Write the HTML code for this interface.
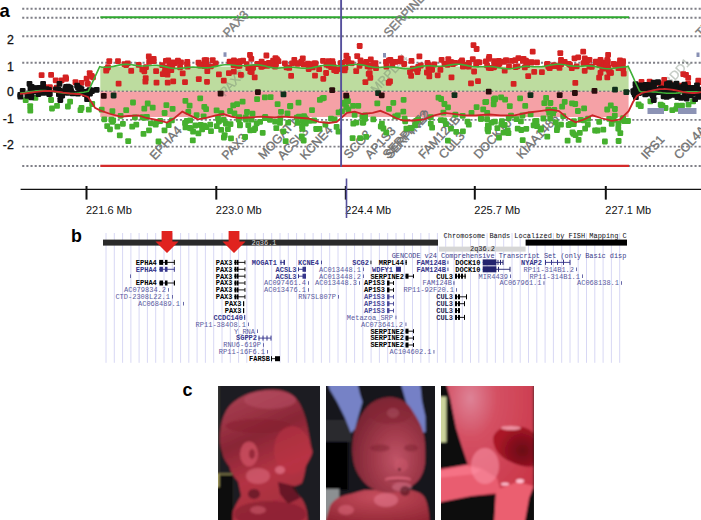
<!DOCTYPE html>
<html><head><meta charset="utf-8"><style>
html,body{margin:0;padding:0;background:#fff;}
body{width:701px;height:520px;overflow:hidden;position:relative;font-family:"Liberation Sans",sans-serif;}
svg{position:absolute;left:0;top:0;}
.ph{position:absolute;overflow:hidden;}
.bl{position:absolute;}
</style></head><body>
<svg width="701" height="520" viewBox="0 0 701 520">
<g id="pa"><line x1="22.2" y1="8.7" x2="701" y2="8.7" stroke="#808088" stroke-width="1.9" stroke-dasharray="2.1 2.05"/><line x1="22.2" y1="17.8" x2="701" y2="17.8" stroke="#808088" stroke-width="1.9" stroke-dasharray="2.1 2.05"/><line x1="22.2" y1="36.2" x2="701" y2="36.2" stroke="#808088" stroke-width="1.9" stroke-dasharray="2.1 2.05"/><line x1="22.2" y1="62.7" x2="701" y2="62.7" stroke="#808088" stroke-width="1.9" stroke-dasharray="2.1 2.05"/><line x1="22.2" y1="91.3" x2="701" y2="91.3" stroke="#808088" stroke-width="1.9" stroke-dasharray="2.1 2.05"/><line x1="22.2" y1="119.9" x2="701" y2="119.9" stroke="#808088" stroke-width="1.9" stroke-dasharray="2.1 2.05"/><line x1="22.2" y1="146.6" x2="701" y2="146.6" stroke="#808088" stroke-width="1.9" stroke-dasharray="2.1 2.05"/><line x1="22.2" y1="166.0" x2="701" y2="166.0" stroke="#808088" stroke-width="1.9" stroke-dasharray="2.1 2.05"/><rect x="100.3" y="66.6" width="528.3000000000001" height="24.700000000000003" fill="#bddc9f"/><rect x="100.3" y="91.3" width="528.3000000000001" height="25.700000000000003" fill="#f5a1a6"/><line x1="22.2" y1="91.3" x2="701" y2="91.3" stroke="#707078" stroke-width="1.5" stroke-dasharray="2.1 2.05" opacity="0.75"/><line x1="100.3" y1="17.3" x2="629" y2="17.3" stroke="#2fa82f" stroke-width="2.1"/><line x1="100.3" y1="165.9" x2="629" y2="165.9" stroke="#d42a2a" stroke-width="2.1"/><text x="225" y="97" transform="rotate(-47 225 97)" font-family="Liberation Sans" font-size="12.3" fill="#6a7a6a" stroke="#6a7a6a" stroke-width="0.35" opacity="0.4">PAX3</text><text x="376" y="94" transform="rotate(-47 376 94)" font-family="Liberation Sans" font-size="12.3" fill="#6a7a6a" stroke="#6a7a6a" stroke-width="0.35" opacity="0.4">MRPL44</text><text x="657" y="100" transform="rotate(-47 657 100)" font-family="Liberation Sans" font-size="12.3" fill="#6a7a6a" stroke="#6a7a6a" stroke-width="0.35" opacity="0.4">RHBDD1</text><text x="155.0" y="160.5" transform="rotate(-47 155.0 160.5)" font-family="Liberation Sans" font-size="12.3" fill="#727272" stroke="#727272" stroke-width="0.35" opacity="1.0">EPHA4</text><text x="227.1" y="160.5" transform="rotate(-47 227.1 160.5)" font-family="Liberation Sans" font-size="12.3" fill="#727272" stroke="#727272" stroke-width="0.35" opacity="1.0">PAX3</text><text x="263.5" y="160.0" transform="rotate(-47 263.5 160.0)" font-family="Liberation Sans" font-size="12.3" fill="#727272" stroke="#727272" stroke-width="0.35" opacity="1.0">MOGAT1</text><text x="282.7" y="160.5" transform="rotate(-47 282.7 160.5)" font-family="Liberation Sans" font-size="12.3" fill="#727272" stroke="#727272" stroke-width="0.35" opacity="1.0">ACSL3</text><text x="305.2" y="160.5" transform="rotate(-47 305.2 160.5)" font-family="Liberation Sans" font-size="12.3" fill="#727272" stroke="#727272" stroke-width="0.35" opacity="1.0">KCNE4</text><text x="348.9" y="159.5" transform="rotate(-47 348.9 159.5)" font-family="Liberation Sans" font-size="12.3" fill="#727272" stroke="#727272" stroke-width="0.35" opacity="1.0">SCG2</text><text x="370.3" y="159.5" transform="rotate(-47 370.3 159.5)" font-family="Liberation Sans" font-size="12.3" fill="#727272" stroke="#727272" stroke-width="0.35" opacity="1.0">AP1S3</text><text x="390.5" y="159.5" transform="rotate(-47 390.5 159.5)" font-family="Liberation Sans" font-size="12.3" fill="#727272" stroke="#727272" stroke-width="0.35" opacity="1.0">SERPINE2</text><text x="388.0" y="159.5" transform="rotate(-47 388.0 159.5)" font-family="Liberation Sans" font-size="12.3" fill="#727272" stroke="#727272" stroke-width="0.35" opacity="1.0">SERPINE2</text><text x="423.8" y="159.5" transform="rotate(-47 423.8 159.5)" font-family="Liberation Sans" font-size="12.3" fill="#727272" stroke="#727272" stroke-width="0.35" opacity="1.0">FAM124B</text><text x="444.1" y="159.5" transform="rotate(-47 444.1 159.5)" font-family="Liberation Sans" font-size="12.3" fill="#727272" stroke="#727272" stroke-width="0.35" opacity="1.0">CUL3</text><text x="478.9" y="159.5" transform="rotate(-47 478.9 159.5)" font-family="Liberation Sans" font-size="12.3" fill="#727272" stroke="#727272" stroke-width="0.35" opacity="1.0">DOCK10</text><text x="521.7" y="159.5" transform="rotate(-47 521.7 159.5)" font-family="Liberation Sans" font-size="12.3" fill="#727272" stroke="#727272" stroke-width="0.35" opacity="1.0">KIAA1486</text><text x="646.5" y="160.0" transform="rotate(-47 646.5 160.0)" font-family="Liberation Sans" font-size="12.3" fill="#727272" stroke="#727272" stroke-width="0.35" opacity="1.0">IRS1</text><text x="679.3" y="160.0" transform="rotate(-47 679.3 160.0)" font-family="Liberation Sans" font-size="12.3" fill="#727272" stroke="#727272" stroke-width="0.35" opacity="1.0">COL4A4</text><text x="228.3" y="37.7" transform="rotate(-47 228.3 37.7)" font-family="Liberation Sans" font-size="12.3" fill="#7c7c7c" stroke="#7c7c7c" stroke-width="0.35" opacity="1.0">PAX3</text><text x="389" y="37.7" transform="rotate(-47 389 37.7)" font-family="Liberation Sans" font-size="12.3" fill="#7c7c7c" stroke="#7c7c7c" stroke-width="0.35" opacity="1.0">SERPINE2</text><text x="701" y="37.7" transform="rotate(-47 701 37.7)" font-family="Liberation Sans" font-size="12.3" fill="#7c7c7c" stroke="#7c7c7c" stroke-width="0.35" opacity="1.0">TM4SF20</text><rect x="48.2" y="97.1" width="5.8" height="5.8" rx="1.1" fill="#45b02e"/><rect x="22.8" y="97.3" width="5.8" height="5.8" rx="1.1" fill="#45b02e"/><rect x="85.9" y="106.7" width="5.8" height="5.8" rx="1.1" fill="#45b02e"/><rect x="27.3" y="103.2" width="5.8" height="5.8" rx="1.1" fill="#45b02e"/><rect x="54.1" y="103.0" width="5.8" height="5.8" rx="1.1" fill="#45b02e"/><rect x="67.2" y="98.7" width="5.8" height="5.8" rx="1.1" fill="#45b02e"/><rect x="89.3" y="101.1" width="5.8" height="5.8" rx="1.1" fill="#45b02e"/><rect x="65.0" y="103.6" width="5.8" height="5.8" rx="1.1" fill="#45b02e"/><rect x="32.5" y="95.0" width="5.8" height="5.8" rx="1.1" fill="#45b02e"/><rect x="49.1" y="105.6" width="5.8" height="5.8" rx="1.1" fill="#45b02e"/><rect x="78.6" y="105.0" width="5.8" height="5.8" rx="1.1" fill="#45b02e"/><rect x="27.4" y="107.8" width="5.8" height="5.8" rx="1.1" fill="#45b02e"/><rect x="77.6" y="107.3" width="5.8" height="5.8" rx="1.1" fill="#45b02e"/><rect x="669.4" y="107.3" width="5.8" height="5.8" rx="1.1" fill="#45b02e"/><rect x="635.7" y="101.5" width="5.8" height="5.8" rx="1.1" fill="#45b02e"/><rect x="674.1" y="102.7" width="5.8" height="5.8" rx="1.1" fill="#45b02e"/><rect x="637.9" y="103.2" width="5.8" height="5.8" rx="1.1" fill="#45b02e"/><rect x="647.5" y="98.4" width="5.8" height="5.8" rx="1.1" fill="#45b02e"/><rect x="690.2" y="98.5" width="5.8" height="5.8" rx="1.1" fill="#45b02e"/><rect x="662.6" y="105.1" width="5.8" height="5.8" rx="1.1" fill="#45b02e"/><rect x="679.1" y="102.7" width="5.8" height="5.8" rx="1.1" fill="#45b02e"/><rect x="685.6" y="101.7" width="5.8" height="5.8" rx="1.1" fill="#45b02e"/><rect x="673.4" y="105.9" width="5.8" height="5.8" rx="1.1" fill="#45b02e"/><rect x="677.2" y="103.8" width="5.8" height="5.8" rx="1.1" fill="#45b02e"/><rect x="659.5" y="102.8" width="5.8" height="5.8" rx="1.1" fill="#45b02e"/><rect x="658.8" y="105.0" width="5.8" height="5.8" rx="1.1" fill="#45b02e"/><rect x="657.8" y="101.7" width="5.8" height="5.8" rx="1.1" fill="#45b02e"/><rect x="615.4" y="125.7" width="5.8" height="5.8" rx="1.1" fill="#45b02e"/><rect x="617.4" y="130.2" width="5.8" height="5.8" rx="1.1" fill="#45b02e"/><rect x="615.5" y="120.7" width="5.8" height="5.8" rx="1.1" fill="#45b02e"/><rect x="606.3" y="115.9" width="5.8" height="5.8" rx="1.1" fill="#45b02e"/><rect x="608.8" y="121.0" width="5.8" height="5.8" rx="1.1" fill="#45b02e"/><rect x="625.1" y="118.1" width="5.8" height="5.8" rx="1.1" fill="#45b02e"/><rect x="518.4" y="127.1" width="5.8" height="5.8" rx="1.1" fill="#45b02e"/><rect x="220.8" y="117.0" width="5.8" height="5.8" rx="1.1" fill="#45b02e"/><rect x="228.1" y="135.5" width="5.8" height="5.8" rx="1.1" fill="#45b02e"/><rect x="547.5" y="100.1" width="5.8" height="5.8" rx="1.1" fill="#45b02e"/><rect x="303.6" y="116.8" width="5.8" height="5.8" rx="1.1" fill="#45b02e"/><rect x="319.6" y="95.5" width="5.8" height="5.8" rx="1.1" fill="#45b02e"/><rect x="243.1" y="116.7" width="5.8" height="5.8" rx="1.1" fill="#45b02e"/><rect x="438.2" y="96.1" width="5.8" height="5.8" rx="1.1" fill="#45b02e"/><rect x="192.5" y="122.6" width="5.8" height="5.8" rx="1.1" fill="#45b02e"/><rect x="496.1" y="134.7" width="5.8" height="5.8" rx="1.1" fill="#45b02e"/><rect x="114.5" y="123.7" width="5.8" height="5.8" rx="1.1" fill="#45b02e"/><rect x="585.2" y="115.7" width="5.8" height="5.8" rx="1.1" fill="#45b02e"/><rect x="284.6" y="110.5" width="5.8" height="5.8" rx="1.1" fill="#45b02e"/><rect x="277.1" y="119.9" width="5.8" height="5.8" rx="1.1" fill="#45b02e"/><rect x="169.7" y="106.0" width="5.8" height="5.8" rx="1.1" fill="#45b02e"/><rect x="620.2" y="115.3" width="5.8" height="5.8" rx="1.1" fill="#45b02e"/><rect x="517.2" y="95.4" width="5.8" height="5.8" rx="1.1" fill="#45b02e"/><rect x="309.1" y="107.2" width="5.8" height="5.8" rx="1.1" fill="#45b02e"/><rect x="335.6" y="128.7" width="5.8" height="5.8" rx="1.1" fill="#45b02e"/><rect x="343.4" y="104.3" width="5.8" height="5.8" rx="1.1" fill="#45b02e"/><rect x="139.7" y="114.2" width="5.8" height="5.8" rx="1.1" fill="#45b02e"/><rect x="197.8" y="122.1" width="5.8" height="5.8" rx="1.1" fill="#45b02e"/><rect x="267.0" y="116.9" width="5.8" height="5.8" rx="1.1" fill="#45b02e"/><rect x="108.4" y="116.8" width="5.8" height="5.8" rx="1.1" fill="#45b02e"/><rect x="379.0" y="120.8" width="5.8" height="5.8" rx="1.1" fill="#45b02e"/><rect x="383.4" y="129.8" width="5.8" height="5.8" rx="1.1" fill="#45b02e"/><rect x="532.2" y="118.3" width="5.8" height="5.8" rx="1.1" fill="#45b02e"/><rect x="565.8" y="122.1" width="5.8" height="5.8" rx="1.1" fill="#45b02e"/><rect x="550.2" y="110.5" width="5.8" height="5.8" rx="1.1" fill="#45b02e"/><rect x="355.4" y="102.9" width="5.8" height="5.8" rx="1.1" fill="#45b02e"/><rect x="236.4" y="114.3" width="5.8" height="5.8" rx="1.1" fill="#45b02e"/><rect x="502.2" y="96.8" width="5.8" height="5.8" rx="1.1" fill="#45b02e"/><rect x="183.9" y="117.9" width="5.8" height="5.8" rx="1.1" fill="#45b02e"/><rect x="602.0" y="138.6" width="5.8" height="5.8" rx="1.1" fill="#45b02e"/><rect x="482.4" y="99.2" width="5.8" height="5.8" rx="1.1" fill="#45b02e"/><rect x="293.9" y="114.8" width="5.8" height="5.8" rx="1.1" fill="#45b02e"/><rect x="242.9" y="114.6" width="5.8" height="5.8" rx="1.1" fill="#45b02e"/><rect x="267.7" y="94.2" width="5.8" height="5.8" rx="1.1" fill="#45b02e"/><rect x="218.5" y="110.3" width="5.8" height="5.8" rx="1.1" fill="#45b02e"/><rect x="429.2" y="124.7" width="5.8" height="5.8" rx="1.1" fill="#45b02e"/><rect x="559.2" y="103.8" width="5.8" height="5.8" rx="1.1" fill="#45b02e"/><rect x="182.1" y="120.1" width="5.8" height="5.8" rx="1.1" fill="#45b02e"/><rect x="129.3" y="123.7" width="5.8" height="5.8" rx="1.1" fill="#45b02e"/><rect x="248.7" y="116.8" width="5.8" height="5.8" rx="1.1" fill="#45b02e"/><rect x="296.1" y="113.7" width="5.8" height="5.8" rx="1.1" fill="#45b02e"/><rect x="201.4" y="103.9" width="5.8" height="5.8" rx="1.1" fill="#45b02e"/><rect x="339.1" y="108.4" width="5.8" height="5.8" rx="1.1" fill="#45b02e"/><rect x="545.4" y="106.8" width="5.8" height="5.8" rx="1.1" fill="#45b02e"/><rect x="477.9" y="115.9" width="5.8" height="5.8" rx="1.1" fill="#45b02e"/><rect x="231.5" y="110.4" width="5.8" height="5.8" rx="1.1" fill="#45b02e"/><rect x="306.7" y="117.9" width="5.8" height="5.8" rx="1.1" fill="#45b02e"/><rect x="492.1" y="96.5" width="5.8" height="5.8" rx="1.1" fill="#45b02e"/><rect x="435.6" y="94.8" width="5.8" height="5.8" rx="1.1" fill="#45b02e"/><rect x="199.2" y="126.5" width="5.8" height="5.8" rx="1.1" fill="#45b02e"/><rect x="188.0" y="125.4" width="5.8" height="5.8" rx="1.1" fill="#45b02e"/><rect x="443.0" y="121.2" width="5.8" height="5.8" rx="1.1" fill="#45b02e"/><rect x="227.2" y="108.1" width="5.8" height="5.8" rx="1.1" fill="#45b02e"/><rect x="478.3" y="115.9" width="5.8" height="5.8" rx="1.1" fill="#45b02e"/><rect x="401.7" y="115.7" width="5.8" height="5.8" rx="1.1" fill="#45b02e"/><rect x="370.4" y="116.5" width="5.8" height="5.8" rx="1.1" fill="#45b02e"/><rect x="237.0" y="121.7" width="5.8" height="5.8" rx="1.1" fill="#45b02e"/><rect x="328.1" y="115.7" width="5.8" height="5.8" rx="1.1" fill="#45b02e"/><rect x="203.4" y="124.3" width="5.8" height="5.8" rx="1.1" fill="#45b02e"/><rect x="252.2" y="125.6" width="5.8" height="5.8" rx="1.1" fill="#45b02e"/><rect x="125.3" y="138.2" width="5.8" height="5.8" rx="1.1" fill="#45b02e"/><rect x="195.5" y="130.5" width="5.8" height="5.8" rx="1.1" fill="#45b02e"/><rect x="185.4" y="109.0" width="5.8" height="5.8" rx="1.1" fill="#45b02e"/><rect x="498.2" y="94.4" width="5.8" height="5.8" rx="1.1" fill="#45b02e"/><rect x="218.3" y="127.0" width="5.8" height="5.8" rx="1.1" fill="#45b02e"/><rect x="301.1" y="113.2" width="5.8" height="5.8" rx="1.1" fill="#45b02e"/><rect x="109.5" y="118.9" width="5.8" height="5.8" rx="1.1" fill="#45b02e"/><rect x="621.3" y="118.2" width="5.8" height="5.8" rx="1.1" fill="#45b02e"/><rect x="317.0" y="97.0" width="5.8" height="5.8" rx="1.1" fill="#45b02e"/><rect x="540.5" y="115.6" width="5.8" height="5.8" rx="1.1" fill="#45b02e"/><rect x="182.5" y="97.9" width="5.8" height="5.8" rx="1.1" fill="#45b02e"/><rect x="483.3" y="98.9" width="5.8" height="5.8" rx="1.1" fill="#45b02e"/><rect x="146.1" y="127.4" width="5.8" height="5.8" rx="1.1" fill="#45b02e"/><rect x="350.2" y="102.9" width="5.8" height="5.8" rx="1.1" fill="#45b02e"/><rect x="359.5" y="113.9" width="5.8" height="5.8" rx="1.1" fill="#45b02e"/><rect x="311.3" y="117.6" width="5.8" height="5.8" rx="1.1" fill="#45b02e"/><rect x="237.0" y="122.5" width="5.8" height="5.8" rx="1.1" fill="#45b02e"/><rect x="157.3" y="118.1" width="5.8" height="5.8" rx="1.1" fill="#45b02e"/><rect x="262.1" y="115.3" width="5.8" height="5.8" rx="1.1" fill="#45b02e"/><rect x="362.2" y="112.6" width="5.8" height="5.8" rx="1.1" fill="#45b02e"/><rect x="547.3" y="115.7" width="5.8" height="5.8" rx="1.1" fill="#45b02e"/><rect x="316.6" y="126.0" width="5.8" height="5.8" rx="1.1" fill="#45b02e"/><rect x="133.4" y="121.7" width="5.8" height="5.8" rx="1.1" fill="#45b02e"/><rect x="408.4" y="125.2" width="5.8" height="5.8" rx="1.1" fill="#45b02e"/><rect x="313.3" y="126.1" width="5.8" height="5.8" rx="1.1" fill="#45b02e"/><rect x="567.5" y="120.9" width="5.8" height="5.8" rx="1.1" fill="#45b02e"/><rect x="564.7" y="137.8" width="5.8" height="5.8" rx="1.1" fill="#45b02e"/><rect x="534.1" y="123.2" width="5.8" height="5.8" rx="1.1" fill="#45b02e"/><rect x="335.7" y="109.5" width="5.8" height="5.8" rx="1.1" fill="#45b02e"/><rect x="101.4" y="116.4" width="5.8" height="5.8" rx="1.1" fill="#45b02e"/><rect x="104.3" y="123.3" width="5.8" height="5.8" rx="1.1" fill="#45b02e"/><rect x="572.3" y="101.1" width="5.8" height="5.8" rx="1.1" fill="#45b02e"/><rect x="541.4" y="100.3" width="5.8" height="5.8" rx="1.1" fill="#45b02e"/><rect x="544.4" y="133.8" width="5.8" height="5.8" rx="1.1" fill="#45b02e"/><rect x="282.8" y="138.3" width="5.8" height="5.8" rx="1.1" fill="#45b02e"/><rect x="280.5" y="128.4" width="5.8" height="5.8" rx="1.1" fill="#45b02e"/><rect x="448.1" y="125.7" width="5.8" height="5.8" rx="1.1" fill="#45b02e"/><rect x="259.8" y="129.9" width="5.8" height="5.8" rx="1.1" fill="#45b02e"/><rect x="200.7" y="113.5" width="5.8" height="5.8" rx="1.1" fill="#45b02e"/><rect x="619.5" y="116.9" width="5.8" height="5.8" rx="1.1" fill="#45b02e"/><rect x="610.4" y="117.0" width="5.8" height="5.8" rx="1.1" fill="#45b02e"/><rect x="530.7" y="122.4" width="5.8" height="5.8" rx="1.1" fill="#45b02e"/><rect x="537.7" y="126.7" width="5.8" height="5.8" rx="1.1" fill="#45b02e"/><rect x="390.4" y="99.9" width="5.8" height="5.8" rx="1.1" fill="#45b02e"/><rect x="299.9" y="118.3" width="5.8" height="5.8" rx="1.1" fill="#45b02e"/><rect x="189.9" y="137.5" width="5.8" height="5.8" rx="1.1" fill="#45b02e"/><rect x="287.2" y="103.4" width="5.8" height="5.8" rx="1.1" fill="#45b02e"/><rect x="245.4" y="122.3" width="5.8" height="5.8" rx="1.1" fill="#45b02e"/><rect x="277.4" y="115.5" width="5.8" height="5.8" rx="1.1" fill="#45b02e"/><rect x="254.2" y="96.3" width="5.8" height="5.8" rx="1.1" fill="#45b02e"/><rect x="484.3" y="110.0" width="5.8" height="5.8" rx="1.1" fill="#45b02e"/><rect x="611.9" y="112.7" width="5.8" height="5.8" rx="1.1" fill="#45b02e"/><rect x="244.1" y="109.1" width="5.8" height="5.8" rx="1.1" fill="#45b02e"/><rect x="141.2" y="115.0" width="5.8" height="5.8" rx="1.1" fill="#45b02e"/><rect x="508.1" y="112.7" width="5.8" height="5.8" rx="1.1" fill="#45b02e"/><rect x="227.6" y="121.3" width="5.8" height="5.8" rx="1.1" fill="#45b02e"/><rect x="569.2" y="100.4" width="5.8" height="5.8" rx="1.1" fill="#45b02e"/><rect x="341.5" y="100.9" width="5.8" height="5.8" rx="1.1" fill="#45b02e"/><rect x="522.3" y="103.0" width="5.8" height="5.8" rx="1.1" fill="#45b02e"/><rect x="570.5" y="130.9" width="5.8" height="5.8" rx="1.1" fill="#45b02e"/><rect x="377.9" y="123.6" width="5.8" height="5.8" rx="1.1" fill="#45b02e"/><rect x="155.6" y="138.6" width="5.8" height="5.8" rx="1.1" fill="#45b02e"/><rect x="116.9" y="132.5" width="5.8" height="5.8" rx="1.1" fill="#45b02e"/><rect x="163.5" y="102.3" width="5.8" height="5.8" rx="1.1" fill="#45b02e"/><rect x="473.7" y="104.3" width="5.8" height="5.8" rx="1.1" fill="#45b02e"/><rect x="123.3" y="107.3" width="5.8" height="5.8" rx="1.1" fill="#45b02e"/><rect x="577.7" y="117.0" width="5.8" height="5.8" rx="1.1" fill="#45b02e"/><rect x="558.1" y="121.8" width="5.8" height="5.8" rx="1.1" fill="#45b02e"/><rect x="273.4" y="125.2" width="5.8" height="5.8" rx="1.1" fill="#45b02e"/><rect x="272.2" y="118.7" width="5.8" height="5.8" rx="1.1" fill="#45b02e"/><rect x="322.5" y="121.6" width="5.8" height="5.8" rx="1.1" fill="#45b02e"/><rect x="287.4" y="103.0" width="5.8" height="5.8" rx="1.1" fill="#45b02e"/><rect x="412.1" y="122.5" width="5.8" height="5.8" rx="1.1" fill="#45b02e"/><rect x="570.9" y="121.2" width="5.8" height="5.8" rx="1.1" fill="#45b02e"/><rect x="460.0" y="128.4" width="5.8" height="5.8" rx="1.1" fill="#45b02e"/><rect x="360.4" y="119.6" width="5.8" height="5.8" rx="1.1" fill="#45b02e"/><rect x="527.7" y="111.5" width="5.8" height="5.8" rx="1.1" fill="#45b02e"/><rect x="144.0" y="114.0" width="5.8" height="5.8" rx="1.1" fill="#45b02e"/><rect x="581.2" y="105.5" width="5.8" height="5.8" rx="1.1" fill="#45b02e"/><rect x="302.1" y="115.3" width="5.8" height="5.8" rx="1.1" fill="#45b02e"/><rect x="575.0" y="108.1" width="5.8" height="5.8" rx="1.1" fill="#45b02e"/><rect x="584.9" y="121.6" width="5.8" height="5.8" rx="1.1" fill="#45b02e"/><rect x="341.9" y="99.7" width="5.8" height="5.8" rx="1.1" fill="#45b02e"/><rect x="343.9" y="94.8" width="5.8" height="5.8" rx="1.1" fill="#45b02e"/><rect x="250.8" y="127.2" width="5.8" height="5.8" rx="1.1" fill="#45b02e"/><rect x="239.7" y="98.7" width="5.8" height="5.8" rx="1.1" fill="#45b02e"/><rect x="257.2" y="118.9" width="5.8" height="5.8" rx="1.1" fill="#45b02e"/><rect x="561.8" y="98.9" width="5.8" height="5.8" rx="1.1" fill="#45b02e"/><rect x="490.8" y="101.4" width="5.8" height="5.8" rx="1.1" fill="#45b02e"/><rect x="506.9" y="103.2" width="5.8" height="5.8" rx="1.1" fill="#45b02e"/><rect x="580.8" y="117.4" width="5.8" height="5.8" rx="1.1" fill="#45b02e"/><rect x="500.6" y="129.7" width="5.8" height="5.8" rx="1.1" fill="#45b02e"/><rect x="359.6" y="119.8" width="5.8" height="5.8" rx="1.1" fill="#45b02e"/><rect x="488.6" y="119.7" width="5.8" height="5.8" rx="1.1" fill="#45b02e"/><rect x="519.8" y="137.3" width="5.8" height="5.8" rx="1.1" fill="#45b02e"/><rect x="362.1" y="115.9" width="5.8" height="5.8" rx="1.1" fill="#45b02e"/><rect x="190.2" y="128.8" width="5.8" height="5.8" rx="1.1" fill="#45b02e"/><rect x="182.6" y="124.5" width="5.8" height="5.8" rx="1.1" fill="#45b02e"/><rect x="345.4" y="106.5" width="5.8" height="5.8" rx="1.1" fill="#45b02e"/><rect x="612.0" y="106.1" width="5.8" height="5.8" rx="1.1" fill="#45b02e"/><rect x="571.0" y="118.2" width="5.8" height="5.8" rx="1.1" fill="#45b02e"/><rect x="247.3" y="127.4" width="5.8" height="5.8" rx="1.1" fill="#45b02e"/><rect x="413.3" y="118.1" width="5.8" height="5.8" rx="1.1" fill="#45b02e"/><rect x="262.0" y="94.5" width="5.8" height="5.8" rx="1.1" fill="#45b02e"/><rect x="222.9" y="120.6" width="5.8" height="5.8" rx="1.1" fill="#45b02e"/><rect x="596.3" y="118.9" width="5.8" height="5.8" rx="1.1" fill="#45b02e"/><rect x="400.4" y="108.8" width="5.8" height="5.8" rx="1.1" fill="#45b02e"/><rect x="299.5" y="125.9" width="5.8" height="5.8" rx="1.1" fill="#45b02e"/><rect x="161.6" y="127.5" width="5.8" height="5.8" rx="1.1" fill="#45b02e"/><rect x="357.2" y="135.3" width="5.8" height="5.8" rx="1.1" fill="#45b02e"/><rect x="394.9" y="112.5" width="5.8" height="5.8" rx="1.1" fill="#45b02e"/><rect x="427.9" y="114.3" width="5.8" height="5.8" rx="1.1" fill="#45b02e"/><rect x="203.2" y="106.2" width="5.8" height="5.8" rx="1.1" fill="#45b02e"/><rect x="518.0" y="118.5" width="5.8" height="5.8" rx="1.1" fill="#45b02e"/><rect x="298.9" y="133.4" width="5.8" height="5.8" rx="1.1" fill="#45b02e"/><rect x="386.1" y="106.0" width="5.8" height="5.8" rx="1.1" fill="#45b02e"/><rect x="453.3" y="128.9" width="5.8" height="5.8" rx="1.1" fill="#45b02e"/><rect x="285.3" y="119.7" width="5.8" height="5.8" rx="1.1" fill="#45b02e"/><rect x="350.4" y="120.8" width="5.8" height="5.8" rx="1.1" fill="#45b02e"/><rect x="161.7" y="110.1" width="5.8" height="5.8" rx="1.1" fill="#45b02e"/><rect x="262.3" y="114.1" width="5.8" height="5.8" rx="1.1" fill="#45b02e"/><rect x="207.3" y="121.7" width="5.8" height="5.8" rx="1.1" fill="#45b02e"/><rect x="117.7" y="112.9" width="5.8" height="5.8" rx="1.1" fill="#45b02e"/><rect x="392.3" y="113.5" width="5.8" height="5.8" rx="1.1" fill="#45b02e"/><rect x="193.7" y="112.3" width="5.8" height="5.8" rx="1.1" fill="#45b02e"/><rect x="98.8" y="106.8" width="5.8" height="5.8" rx="1.1" fill="#45b02e"/><rect x="107.1" y="126.4" width="5.8" height="5.8" rx="1.1" fill="#45b02e"/><rect x="452.5" y="111.7" width="5.8" height="5.8" rx="1.1" fill="#45b02e"/><rect x="208.1" y="128.3" width="5.8" height="5.8" rx="1.1" fill="#45b02e"/><rect x="438.0" y="117.2" width="5.8" height="5.8" rx="1.1" fill="#45b02e"/><rect x="501.7" y="122.1" width="5.8" height="5.8" rx="1.1" fill="#45b02e"/><rect x="484.6" y="126.4" width="5.8" height="5.8" rx="1.1" fill="#45b02e"/><rect x="465.9" y="121.8" width="5.8" height="5.8" rx="1.1" fill="#45b02e"/><rect x="333.7" y="124.0" width="5.8" height="5.8" rx="1.1" fill="#45b02e"/><rect x="441.5" y="101.1" width="5.8" height="5.8" rx="1.1" fill="#45b02e"/><rect x="302.9" y="120.6" width="5.8" height="5.8" rx="1.1" fill="#45b02e"/><rect x="403.5" y="125.7" width="5.8" height="5.8" rx="1.1" fill="#45b02e"/><rect x="576.9" y="129.9" width="5.8" height="5.8" rx="1.1" fill="#45b02e"/><rect x="480.3" y="106.5" width="5.8" height="5.8" rx="1.1" fill="#45b02e"/><rect x="249.6" y="110.8" width="5.8" height="5.8" rx="1.1" fill="#45b02e"/><rect x="153.6" y="118.9" width="5.8" height="5.8" rx="1.1" fill="#45b02e"/><rect x="543.2" y="95.0" width="5.8" height="5.8" rx="1.1" fill="#45b02e"/><rect x="490.9" y="96.5" width="5.8" height="5.8" rx="1.1" fill="#45b02e"/><rect x="374.4" y="100.5" width="5.8" height="5.8" rx="1.1" fill="#45b02e"/><rect x="363.2" y="134.0" width="5.8" height="5.8" rx="1.1" fill="#45b02e"/><rect x="362.2" y="115.2" width="5.8" height="5.8" rx="1.1" fill="#45b02e"/><rect x="546.3" y="110.0" width="5.8" height="5.8" rx="1.1" fill="#45b02e"/><rect x="402.3" y="118.4" width="5.8" height="5.8" rx="1.1" fill="#45b02e"/><rect x="485.2" y="128.4" width="5.8" height="5.8" rx="1.1" fill="#45b02e"/><rect x="345.1" y="98.2" width="5.8" height="5.8" rx="1.1" fill="#45b02e"/><rect x="110.3" y="117.4" width="5.8" height="5.8" rx="1.1" fill="#45b02e"/><rect x="549.7" y="108.3" width="5.8" height="5.8" rx="1.1" fill="#45b02e"/><rect x="331.7" y="116.6" width="5.8" height="5.8" rx="1.1" fill="#45b02e"/><rect x="552.8" y="119.4" width="5.8" height="5.8" rx="1.1" fill="#45b02e"/><rect x="294.7" y="120.0" width="5.8" height="5.8" rx="1.1" fill="#45b02e"/><rect x="353.2" y="119.8" width="5.8" height="5.8" rx="1.1" fill="#45b02e"/><rect x="464.6" y="118.7" width="5.8" height="5.8" rx="1.1" fill="#45b02e"/><rect x="234.2" y="101.2" width="5.8" height="5.8" rx="1.1" fill="#45b02e"/><rect x="349.7" y="135.2" width="5.8" height="5.8" rx="1.1" fill="#45b02e"/><rect x="485.9" y="124.7" width="5.8" height="5.8" rx="1.1" fill="#45b02e"/><rect x="300.8" y="137.6" width="5.8" height="5.8" rx="1.1" fill="#45b02e"/><rect x="445.1" y="104.4" width="5.8" height="5.8" rx="1.1" fill="#45b02e"/><rect x="484.2" y="116.3" width="5.8" height="5.8" rx="1.1" fill="#45b02e"/><rect x="519.6" y="112.6" width="5.8" height="5.8" rx="1.1" fill="#45b02e"/><rect x="400.7" y="96.9" width="5.8" height="5.8" rx="1.1" fill="#45b02e"/><rect x="604.3" y="106.6" width="5.8" height="5.8" rx="1.1" fill="#45b02e"/><rect x="494.5" y="125.2" width="5.8" height="5.8" rx="1.1" fill="#45b02e"/><rect x="148.0" y="120.5" width="5.8" height="5.8" rx="1.1" fill="#45b02e"/><rect x="505.5" y="130.2" width="5.8" height="5.8" rx="1.1" fill="#45b02e"/><rect x="592.2" y="127.6" width="5.8" height="5.8" rx="1.1" fill="#45b02e"/><rect x="582.2" y="125.7" width="5.8" height="5.8" rx="1.1" fill="#45b02e"/><rect x="468.6" y="110.1" width="5.8" height="5.8" rx="1.1" fill="#45b02e"/><rect x="380.5" y="125.6" width="5.8" height="5.8" rx="1.1" fill="#45b02e"/><rect x="554.0" y="127.3" width="5.8" height="5.8" rx="1.1" fill="#45b02e"/><rect x="504.8" y="127.4" width="5.8" height="5.8" rx="1.1" fill="#45b02e"/><rect x="201.2" y="122.8" width="5.8" height="5.8" rx="1.1" fill="#45b02e"/><rect x="225.0" y="126.3" width="5.8" height="5.8" rx="1.1" fill="#45b02e"/><rect x="505.8" y="115.4" width="5.8" height="5.8" rx="1.1" fill="#45b02e"/><rect x="415.4" y="116.8" width="5.8" height="5.8" rx="1.1" fill="#45b02e"/><rect x="575.7" y="137.0" width="5.8" height="5.8" rx="1.1" fill="#45b02e"/><rect x="186.7" y="102.7" width="5.8" height="5.8" rx="1.1" fill="#45b02e"/><rect x="187.2" y="117.5" width="5.8" height="5.8" rx="1.1" fill="#45b02e"/><rect x="560.3" y="113.3" width="5.8" height="5.8" rx="1.1" fill="#45b02e"/><rect x="572.6" y="132.3" width="5.8" height="5.8" rx="1.1" fill="#45b02e"/><rect x="216.0" y="118.6" width="5.8" height="5.8" rx="1.1" fill="#45b02e"/><rect x="351.7" y="112.0" width="5.8" height="5.8" rx="1.1" fill="#45b02e"/><rect x="253.8" y="120.4" width="5.8" height="5.8" rx="1.1" fill="#45b02e"/><rect x="600.4" y="126.8" width="5.8" height="5.8" rx="1.1" fill="#45b02e"/><rect x="513.6" y="116.2" width="5.8" height="5.8" rx="1.1" fill="#45b02e"/><rect x="213.7" y="107.5" width="5.8" height="5.8" rx="1.1" fill="#45b02e"/><rect x="485.0" y="122.4" width="5.8" height="5.8" rx="1.1" fill="#45b02e"/><rect x="554.5" y="124.7" width="5.8" height="5.8" rx="1.1" fill="#45b02e"/><rect x="242.2" y="134.1" width="5.8" height="5.8" rx="1.1" fill="#45b02e"/><rect x="569.6" y="129.4" width="5.8" height="5.8" rx="1.1" fill="#45b02e"/><rect x="152.8" y="121.7" width="5.8" height="5.8" rx="1.1" fill="#45b02e"/><rect x="197.3" y="95.4" width="5.8" height="5.8" rx="1.1" fill="#45b02e"/><rect x="299.2" y="123.4" width="5.8" height="5.8" rx="1.1" fill="#45b02e"/><rect x="140.6" y="131.0" width="5.8" height="5.8" rx="1.1" fill="#45b02e"/><rect x="459.8" y="112.9" width="5.8" height="5.8" rx="1.1" fill="#45b02e"/><rect x="109.5" y="108.3" width="5.8" height="5.8" rx="1.1" fill="#45b02e"/><rect x="492.1" y="95.5" width="5.8" height="5.8" rx="1.1" fill="#45b02e"/><rect x="141.4" y="105.7" width="5.8" height="5.8" rx="1.1" fill="#45b02e"/><rect x="235.8" y="116.7" width="5.8" height="5.8" rx="1.1" fill="#45b02e"/><rect x="144.8" y="100.6" width="5.8" height="5.8" rx="1.1" fill="#45b02e"/><rect x="523.4" y="125.9" width="5.8" height="5.8" rx="1.1" fill="#45b02e"/><rect x="149.8" y="104.7" width="5.8" height="5.8" rx="1.1" fill="#45b02e"/><rect x="221.0" y="134.6" width="5.8" height="5.8" rx="1.1" fill="#45b02e"/><rect x="274.7" y="101.3" width="5.8" height="5.8" rx="1.1" fill="#45b02e"/><rect x="594.7" y="127.6" width="5.8" height="5.8" rx="1.1" fill="#45b02e"/><rect x="130.1" y="99.6" width="5.8" height="5.8" rx="1.1" fill="#45b02e"/><rect x="320.9" y="95.0" width="5.8" height="5.8" rx="1.1" fill="#45b02e"/><rect x="215.1" y="115.6" width="5.8" height="5.8" rx="1.1" fill="#45b02e"/><rect x="213.9" y="123.2" width="5.8" height="5.8" rx="1.1" fill="#45b02e"/><rect x="221.8" y="132.2" width="5.8" height="5.8" rx="1.1" fill="#45b02e"/><rect x="440.5" y="109.7" width="5.8" height="5.8" rx="1.1" fill="#45b02e"/><rect x="236.1" y="115.0" width="5.8" height="5.8" rx="1.1" fill="#45b02e"/><rect x="186.9" y="125.0" width="5.8" height="5.8" rx="1.1" fill="#45b02e"/><rect x="427.9" y="120.7" width="5.8" height="5.8" rx="1.1" fill="#45b02e"/><rect x="499.0" y="118.2" width="5.8" height="5.8" rx="1.1" fill="#45b02e"/><rect x="615.7" y="138.1" width="5.8" height="5.8" rx="1.1" fill="#45b02e"/><rect x="533.6" y="118.1" width="5.8" height="5.8" rx="1.1" fill="#45b02e"/><rect x="441.2" y="117.6" width="5.8" height="5.8" rx="1.1" fill="#45b02e"/><rect x="132.0" y="114.5" width="5.8" height="5.8" rx="1.1" fill="#45b02e"/><rect x="278.1" y="108.9" width="5.8" height="5.8" rx="1.1" fill="#45b02e"/><rect x="538.1" y="125.5" width="5.8" height="5.8" rx="1.1" fill="#45b02e"/><rect x="445.0" y="137.7" width="5.8" height="5.8" rx="1.1" fill="#45b02e"/><rect x="120.0" y="120.9" width="5.8" height="5.8" rx="1.1" fill="#45b02e"/><rect x="230.3" y="102.5" width="5.8" height="5.8" rx="1.1" fill="#45b02e"/><rect x="498.5" y="121.3" width="5.8" height="5.8" rx="1.1" fill="#45b02e"/><rect x="607.9" y="102.6" width="5.8" height="5.8" rx="1.1" fill="#45b02e"/><rect x="169.0" y="117.5" width="5.8" height="5.8" rx="1.1" fill="#45b02e"/><rect x="514.8" y="125.8" width="5.8" height="5.8" rx="1.1" fill="#45b02e"/><rect x="295.6" y="99.7" width="5.8" height="5.8" rx="1.1" fill="#45b02e"/><rect x="165.8" y="122.3" width="5.8" height="5.8" rx="1.1" fill="#45b02e"/><rect x="551.4" y="107.1" width="5.8" height="5.8" rx="1.1" fill="#45b02e"/><rect x="492.0" y="118.8" width="5.8" height="5.8" rx="1.1" fill="#45b02e"/><rect x="38.7" y="72.3" width="5.8" height="5.8" rx="1.1" fill="#d42222"/><rect x="48.2" y="72.0" width="5.8" height="5.8" rx="1.1" fill="#d42222"/><rect x="47.0" y="84.3" width="5.8" height="5.8" rx="1.1" fill="#d42222"/><rect x="62.7" y="74.5" width="5.8" height="5.8" rx="1.1" fill="#d42222"/><rect x="41.8" y="84.3" width="5.8" height="5.8" rx="1.1" fill="#d42222"/><rect x="53.8" y="84.8" width="5.8" height="5.8" rx="1.1" fill="#d42222"/><rect x="58.7" y="77.4" width="5.8" height="5.8" rx="1.1" fill="#d42222"/><rect x="85.0" y="81.0" width="5.8" height="5.8" rx="1.1" fill="#d42222"/><rect x="63.2" y="75.9" width="5.8" height="5.8" rx="1.1" fill="#d42222"/><rect x="83.7" y="75.7" width="5.8" height="5.8" rx="1.1" fill="#d42222"/><rect x="86.8" y="70.2" width="5.8" height="5.8" rx="1.1" fill="#d42222"/><rect x="52.8" y="77.4" width="5.8" height="5.8" rx="1.1" fill="#d42222"/><rect x="88.7" y="73.1" width="5.8" height="5.8" rx="1.1" fill="#d42222"/><rect x="78.7" y="79.9" width="5.8" height="5.8" rx="1.1" fill="#d42222"/><rect x="72.6" y="79.2" width="5.8" height="5.8" rx="1.1" fill="#d42222"/><rect x="90.1" y="74.4" width="5.8" height="5.8" rx="1.1" fill="#d42222"/><rect x="695.9" y="79.2" width="5.8" height="5.8" rx="1.1" fill="#d42222"/><rect x="685.3" y="75.0" width="5.8" height="5.8" rx="1.1" fill="#d42222"/><rect x="685.2" y="80.9" width="5.8" height="5.8" rx="1.1" fill="#d42222"/><rect x="674.9" y="84.4" width="5.8" height="5.8" rx="1.1" fill="#d42222"/><rect x="661.3" y="76.9" width="5.8" height="5.8" rx="1.1" fill="#d42222"/><rect x="678.1" y="82.8" width="5.8" height="5.8" rx="1.1" fill="#d42222"/><rect x="654.9" y="80.5" width="5.8" height="5.8" rx="1.1" fill="#d42222"/><rect x="646.7" y="78.8" width="5.8" height="5.8" rx="1.1" fill="#d42222"/><rect x="683.1" y="72.0" width="5.8" height="5.8" rx="1.1" fill="#d42222"/><rect x="680.4" y="71.3" width="5.8" height="5.8" rx="1.1" fill="#d42222"/><rect x="695.4" y="77.7" width="5.8" height="5.8" rx="1.1" fill="#d42222"/><rect x="659.7" y="81.2" width="5.8" height="5.8" rx="1.1" fill="#d42222"/><rect x="667.1" y="81.3" width="5.8" height="5.8" rx="1.1" fill="#d42222"/><rect x="638.6" y="79.0" width="5.8" height="5.8" rx="1.1" fill="#d42222"/><rect x="618.3" y="64.7" width="5.8" height="5.8" rx="1.1" fill="#d42222"/><rect x="606.6" y="69.5" width="5.8" height="5.8" rx="1.1" fill="#d42222"/><rect x="607.8" y="69.8" width="5.8" height="5.8" rx="1.1" fill="#d42222"/><rect x="619.1" y="63.8" width="5.8" height="5.8" rx="1.1" fill="#d42222"/><rect x="617.1" y="57.6" width="5.8" height="5.8" rx="1.1" fill="#d42222"/><rect x="608.0" y="70.0" width="5.8" height="5.8" rx="1.1" fill="#d42222"/><rect x="333.3" y="66.6" width="5.8" height="5.8" rx="1.1" fill="#d42222"/><rect x="597.6" y="69.9" width="5.8" height="5.8" rx="1.1" fill="#d42222"/><rect x="238.0" y="72.0" width="5.8" height="5.8" rx="1.1" fill="#d42222"/><rect x="459.1" y="57.4" width="5.8" height="5.8" rx="1.1" fill="#d42222"/><rect x="201.7" y="63.2" width="5.8" height="5.8" rx="1.1" fill="#d42222"/><rect x="534.1" y="59.5" width="5.8" height="5.8" rx="1.1" fill="#d42222"/><rect x="339.0" y="62.3" width="5.8" height="5.8" rx="1.1" fill="#d42222"/><rect x="203.4" y="57.2" width="5.8" height="5.8" rx="1.1" fill="#d42222"/><rect x="503.9" y="57.5" width="5.8" height="5.8" rx="1.1" fill="#d42222"/><rect x="528.7" y="59.3" width="5.8" height="5.8" rx="1.1" fill="#d42222"/><rect x="457.7" y="59.3" width="5.8" height="5.8" rx="1.1" fill="#d42222"/><rect x="296.0" y="60.3" width="5.8" height="5.8" rx="1.1" fill="#d42222"/><rect x="348.7" y="60.5" width="5.8" height="5.8" rx="1.1" fill="#d42222"/><rect x="204.4" y="68.3" width="5.8" height="5.8" rx="1.1" fill="#d42222"/><rect x="258.7" y="58.7" width="5.8" height="5.8" rx="1.1" fill="#d42222"/><rect x="320.4" y="75.9" width="5.8" height="5.8" rx="1.1" fill="#d42222"/><rect x="200.4" y="61.4" width="5.8" height="5.8" rx="1.1" fill="#d42222"/><rect x="502.7" y="57.6" width="5.8" height="5.8" rx="1.1" fill="#d42222"/><rect x="443.7" y="61.3" width="5.8" height="5.8" rx="1.1" fill="#d42222"/><rect x="493.2" y="60.8" width="5.8" height="5.8" rx="1.1" fill="#d42222"/><rect x="328.2" y="59.7" width="5.8" height="5.8" rx="1.1" fill="#d42222"/><rect x="330.1" y="61.1" width="5.8" height="5.8" rx="1.1" fill="#d42222"/><rect x="170.0" y="59.4" width="5.8" height="5.8" rx="1.1" fill="#d42222"/><rect x="604.9" y="58.8" width="5.8" height="5.8" rx="1.1" fill="#d42222"/><rect x="184.2" y="61.4" width="5.8" height="5.8" rx="1.1" fill="#d42222"/><rect x="339.0" y="60.1" width="5.8" height="5.8" rx="1.1" fill="#d42222"/><rect x="515.5" y="55.3" width="5.8" height="5.8" rx="1.1" fill="#d42222"/><rect x="311.6" y="61.5" width="5.8" height="5.8" rx="1.1" fill="#d42222"/><rect x="182.1" y="79.2" width="5.8" height="5.8" rx="1.1" fill="#d42222"/><rect x="450.0" y="61.3" width="5.8" height="5.8" rx="1.1" fill="#d42222"/><rect x="414.1" y="66.9" width="5.8" height="5.8" rx="1.1" fill="#d42222"/><rect x="600.5" y="65.2" width="5.8" height="5.8" rx="1.1" fill="#d42222"/><rect x="263.5" y="52.6" width="5.8" height="5.8" rx="1.1" fill="#d42222"/><rect x="580.3" y="48.8" width="5.8" height="5.8" rx="1.1" fill="#d42222"/><rect x="448.7" y="59.4" width="5.8" height="5.8" rx="1.1" fill="#d42222"/><rect x="600.0" y="65.7" width="5.8" height="5.8" rx="1.1" fill="#d42222"/><rect x="367.9" y="56.6" width="5.8" height="5.8" rx="1.1" fill="#d42222"/><rect x="463.5" y="61.9" width="5.8" height="5.8" rx="1.1" fill="#d42222"/><rect x="496.0" y="58.1" width="5.8" height="5.8" rx="1.1" fill="#d42222"/><rect x="166.9" y="62.5" width="5.8" height="5.8" rx="1.1" fill="#d42222"/><rect x="333.4" y="68.1" width="5.8" height="5.8" rx="1.1" fill="#d42222"/><rect x="571.6" y="55.4" width="5.8" height="5.8" rx="1.1" fill="#d42222"/><rect x="310.0" y="61.6" width="5.8" height="5.8" rx="1.1" fill="#d42222"/><rect x="226.7" y="58.7" width="5.8" height="5.8" rx="1.1" fill="#d42222"/><rect x="459.5" y="59.5" width="5.8" height="5.8" rx="1.1" fill="#d42222"/><rect x="593.0" y="58.7" width="5.8" height="5.8" rx="1.1" fill="#d42222"/><rect x="165.5" y="65.2" width="5.8" height="5.8" rx="1.1" fill="#d42222"/><rect x="369.6" y="62.8" width="5.8" height="5.8" rx="1.1" fill="#d42222"/><rect x="544.1" y="61.6" width="5.8" height="5.8" rx="1.1" fill="#d42222"/><rect x="500.9" y="58.9" width="5.8" height="5.8" rx="1.1" fill="#d42222"/><rect x="429.2" y="66.9" width="5.8" height="5.8" rx="1.1" fill="#d42222"/><rect x="251.8" y="74.5" width="5.8" height="5.8" rx="1.1" fill="#d42222"/><rect x="488.0" y="65.3" width="5.8" height="5.8" rx="1.1" fill="#d42222"/><rect x="465.9" y="60.0" width="5.8" height="5.8" rx="1.1" fill="#d42222"/><rect x="605.5" y="66.8" width="5.8" height="5.8" rx="1.1" fill="#d42222"/><rect x="483.0" y="58.5" width="5.8" height="5.8" rx="1.1" fill="#d42222"/><rect x="551.1" y="62.2" width="5.8" height="5.8" rx="1.1" fill="#d42222"/><rect x="258.4" y="63.9" width="5.8" height="5.8" rx="1.1" fill="#d42222"/><rect x="240.2" y="57.7" width="5.8" height="5.8" rx="1.1" fill="#d42222"/><rect x="343.0" y="58.4" width="5.8" height="5.8" rx="1.1" fill="#d42222"/><rect x="584.2" y="57.6" width="5.8" height="5.8" rx="1.1" fill="#d42222"/><rect x="364.7" y="63.5" width="5.8" height="5.8" rx="1.1" fill="#d42222"/><rect x="521.9" y="64.5" width="5.8" height="5.8" rx="1.1" fill="#d42222"/><rect x="554.0" y="63.2" width="5.8" height="5.8" rx="1.1" fill="#d42222"/><rect x="372.6" y="60.2" width="5.8" height="5.8" rx="1.1" fill="#d42222"/><rect x="135.8" y="62.0" width="5.8" height="5.8" rx="1.1" fill="#d42222"/><rect x="345.0" y="56.0" width="5.8" height="5.8" rx="1.1" fill="#d42222"/><rect x="266.0" y="60.1" width="5.8" height="5.8" rx="1.1" fill="#d42222"/><rect x="178.1" y="59.5" width="5.8" height="5.8" rx="1.1" fill="#d42222"/><rect x="600.6" y="59.4" width="5.8" height="5.8" rx="1.1" fill="#d42222"/><rect x="268.0" y="60.5" width="5.8" height="5.8" rx="1.1" fill="#d42222"/><rect x="408.2" y="73.0" width="5.8" height="5.8" rx="1.1" fill="#d42222"/><rect x="201.7" y="57.3" width="5.8" height="5.8" rx="1.1" fill="#d42222"/><rect x="184.7" y="63.7" width="5.8" height="5.8" rx="1.1" fill="#d42222"/><rect x="168.4" y="67.2" width="5.8" height="5.8" rx="1.1" fill="#d42222"/><rect x="309.9" y="64.5" width="5.8" height="5.8" rx="1.1" fill="#d42222"/><rect x="383.1" y="59.0" width="5.8" height="5.8" rx="1.1" fill="#d42222"/><rect x="153.6" y="79.7" width="5.8" height="5.8" rx="1.1" fill="#d42222"/><rect x="150.6" y="58.3" width="5.8" height="5.8" rx="1.1" fill="#d42222"/><rect x="545.5" y="63.9" width="5.8" height="5.8" rx="1.1" fill="#d42222"/><rect x="272.6" y="55.2" width="5.8" height="5.8" rx="1.1" fill="#d42222"/><rect x="583.7" y="59.5" width="5.8" height="5.8" rx="1.1" fill="#d42222"/><rect x="354.3" y="53.2" width="5.8" height="5.8" rx="1.1" fill="#d42222"/><rect x="328.2" y="64.2" width="5.8" height="5.8" rx="1.1" fill="#d42222"/><rect x="615.6" y="65.2" width="5.8" height="5.8" rx="1.1" fill="#d42222"/><rect x="523.8" y="59.0" width="5.8" height="5.8" rx="1.1" fill="#d42222"/><rect x="103.8" y="66.0" width="5.8" height="5.8" rx="1.1" fill="#d42222"/><rect x="337.7" y="60.2" width="5.8" height="5.8" rx="1.1" fill="#d42222"/><rect x="184.4" y="58.9" width="5.8" height="5.8" rx="1.1" fill="#d42222"/><rect x="124.8" y="60.5" width="5.8" height="5.8" rx="1.1" fill="#d42222"/><rect x="342.5" y="64.8" width="5.8" height="5.8" rx="1.1" fill="#d42222"/><rect x="245.4" y="65.2" width="5.8" height="5.8" rx="1.1" fill="#d42222"/><rect x="495.8" y="59.7" width="5.8" height="5.8" rx="1.1" fill="#d42222"/><rect x="495.7" y="60.3" width="5.8" height="5.8" rx="1.1" fill="#d42222"/><rect x="581.8" y="67.9" width="5.8" height="5.8" rx="1.1" fill="#d42222"/><rect x="230.7" y="62.3" width="5.8" height="5.8" rx="1.1" fill="#d42222"/><rect x="415.2" y="65.7" width="5.8" height="5.8" rx="1.1" fill="#d42222"/><rect x="473.2" y="61.0" width="5.8" height="5.8" rx="1.1" fill="#d42222"/><rect x="610.7" y="60.9" width="5.8" height="5.8" rx="1.1" fill="#d42222"/><rect x="575.3" y="54.4" width="5.8" height="5.8" rx="1.1" fill="#d42222"/><rect x="272.2" y="63.7" width="5.8" height="5.8" rx="1.1" fill="#d42222"/><rect x="581.9" y="55.6" width="5.8" height="5.8" rx="1.1" fill="#d42222"/><rect x="397.3" y="58.5" width="5.8" height="5.8" rx="1.1" fill="#d42222"/><rect x="486.3" y="54.0" width="5.8" height="5.8" rx="1.1" fill="#d42222"/><rect x="179.8" y="70.5" width="5.8" height="5.8" rx="1.1" fill="#d42222"/><rect x="510.7" y="81.0" width="5.8" height="5.8" rx="1.1" fill="#d42222"/><rect x="237.6" y="58.2" width="5.8" height="5.8" rx="1.1" fill="#d42222"/><rect x="596.4" y="62.0" width="5.8" height="5.8" rx="1.1" fill="#d42222"/><rect x="311.4" y="60.4" width="5.8" height="5.8" rx="1.1" fill="#d42222"/><rect x="345.9" y="60.2" width="5.8" height="5.8" rx="1.1" fill="#d42222"/><rect x="325.6" y="62.6" width="5.8" height="5.8" rx="1.1" fill="#d42222"/><rect x="495.2" y="62.0" width="5.8" height="5.8" rx="1.1" fill="#d42222"/><rect x="520.7" y="55.9" width="5.8" height="5.8" rx="1.1" fill="#d42222"/><rect x="243.8" y="61.3" width="5.8" height="5.8" rx="1.1" fill="#d42222"/><rect x="294.7" y="60.9" width="5.8" height="5.8" rx="1.1" fill="#d42222"/><rect x="195.6" y="59.7" width="5.8" height="5.8" rx="1.1" fill="#d42222"/><rect x="496.5" y="60.9" width="5.8" height="5.8" rx="1.1" fill="#d42222"/><rect x="115.1" y="58.3" width="5.8" height="5.8" rx="1.1" fill="#d42222"/><rect x="230.9" y="68.8" width="5.8" height="5.8" rx="1.1" fill="#d42222"/><rect x="408.6" y="57.9" width="5.8" height="5.8" rx="1.1" fill="#d42222"/><rect x="139.4" y="66.7" width="5.8" height="5.8" rx="1.1" fill="#d42222"/><rect x="231.0" y="57.5" width="5.8" height="5.8" rx="1.1" fill="#d42222"/><rect x="248.4" y="56.0" width="5.8" height="5.8" rx="1.1" fill="#d42222"/><rect x="598.7" y="60.0" width="5.8" height="5.8" rx="1.1" fill="#d42222"/><rect x="414.6" y="69.1" width="5.8" height="5.8" rx="1.1" fill="#d42222"/><rect x="270.2" y="57.8" width="5.8" height="5.8" rx="1.1" fill="#d42222"/><rect x="387.5" y="56.9" width="5.8" height="5.8" rx="1.1" fill="#d42222"/><rect x="273.1" y="61.3" width="5.8" height="5.8" rx="1.1" fill="#d42222"/><rect x="586.5" y="63.6" width="5.8" height="5.8" rx="1.1" fill="#d42222"/><rect x="471.2" y="68.6" width="5.8" height="5.8" rx="1.1" fill="#d42222"/><rect x="604.4" y="74.5" width="5.8" height="5.8" rx="1.1" fill="#d42222"/><rect x="146.3" y="59.0" width="5.8" height="5.8" rx="1.1" fill="#d42222"/><rect x="212.8" y="60.6" width="5.8" height="5.8" rx="1.1" fill="#d42222"/><rect x="431.4" y="61.6" width="5.8" height="5.8" rx="1.1" fill="#d42222"/><rect x="573.8" y="63.4" width="5.8" height="5.8" rx="1.1" fill="#d42222"/><rect x="142.8" y="75.3" width="5.8" height="5.8" rx="1.1" fill="#d42222"/><rect x="386.0" y="57.6" width="5.8" height="5.8" rx="1.1" fill="#d42222"/><rect x="234.5" y="63.0" width="5.8" height="5.8" rx="1.1" fill="#d42222"/><rect x="528.5" y="59.7" width="5.8" height="5.8" rx="1.1" fill="#d42222"/><rect x="105.1" y="64.3" width="5.8" height="5.8" rx="1.1" fill="#d42222"/><rect x="165.3" y="57.5" width="5.8" height="5.8" rx="1.1" fill="#d42222"/><rect x="512.4" y="57.2" width="5.8" height="5.8" rx="1.1" fill="#d42222"/><rect x="115.7" y="80.7" width="5.8" height="5.8" rx="1.1" fill="#d42222"/><rect x="226.0" y="70.3" width="5.8" height="5.8" rx="1.1" fill="#d42222"/><rect x="261.5" y="60.9" width="5.8" height="5.8" rx="1.1" fill="#d42222"/><rect x="330.9" y="64.0" width="5.8" height="5.8" rx="1.1" fill="#d42222"/><rect x="362.5" y="79.2" width="5.8" height="5.8" rx="1.1" fill="#d42222"/><rect x="264.3" y="63.0" width="5.8" height="5.8" rx="1.1" fill="#d42222"/><rect x="363.2" y="58.9" width="5.8" height="5.8" rx="1.1" fill="#d42222"/><rect x="620.0" y="62.8" width="5.8" height="5.8" rx="1.1" fill="#d42222"/><rect x="367.0" y="63.9" width="5.8" height="5.8" rx="1.1" fill="#d42222"/><rect x="599.4" y="65.3" width="5.8" height="5.8" rx="1.1" fill="#d42222"/><rect x="177.2" y="64.4" width="5.8" height="5.8" rx="1.1" fill="#d42222"/><rect x="426.4" y="73.5" width="5.8" height="5.8" rx="1.1" fill="#d42222"/><rect x="208.0" y="63.4" width="5.8" height="5.8" rx="1.1" fill="#d42222"/><rect x="465.9" y="63.6" width="5.8" height="5.8" rx="1.1" fill="#d42222"/><rect x="612.0" y="61.9" width="5.8" height="5.8" rx="1.1" fill="#d42222"/><rect x="323.5" y="61.7" width="5.8" height="5.8" rx="1.1" fill="#d42222"/><rect x="230.5" y="59.0" width="5.8" height="5.8" rx="1.1" fill="#d42222"/><rect x="298.5" y="58.8" width="5.8" height="5.8" rx="1.1" fill="#d42222"/><rect x="443.9" y="61.3" width="5.8" height="5.8" rx="1.1" fill="#d42222"/><rect x="604.0" y="62.5" width="5.8" height="5.8" rx="1.1" fill="#d42222"/><rect x="551.0" y="63.2" width="5.8" height="5.8" rx="1.1" fill="#d42222"/><rect x="248.8" y="69.1" width="5.8" height="5.8" rx="1.1" fill="#d42222"/><rect x="415.3" y="64.1" width="5.8" height="5.8" rx="1.1" fill="#d42222"/><rect x="523.3" y="60.4" width="5.8" height="5.8" rx="1.1" fill="#d42222"/><rect x="282.0" y="60.4" width="5.8" height="5.8" rx="1.1" fill="#d42222"/><rect x="426.1" y="62.6" width="5.8" height="5.8" rx="1.1" fill="#d42222"/><rect x="605.2" y="51.9" width="5.8" height="5.8" rx="1.1" fill="#d42222"/><rect x="523.0" y="57.7" width="5.8" height="5.8" rx="1.1" fill="#d42222"/><rect x="204.1" y="78.9" width="5.8" height="5.8" rx="1.1" fill="#d42222"/><rect x="425.5" y="63.9" width="5.8" height="5.8" rx="1.1" fill="#d42222"/><rect x="371.4" y="60.7" width="5.8" height="5.8" rx="1.1" fill="#d42222"/><rect x="164.8" y="79.7" width="5.8" height="5.8" rx="1.1" fill="#d42222"/><rect x="172.0" y="60.1" width="5.8" height="5.8" rx="1.1" fill="#d42222"/><rect x="168.1" y="63.9" width="5.8" height="5.8" rx="1.1" fill="#d42222"/><rect x="320.1" y="58.0" width="5.8" height="5.8" rx="1.1" fill="#d42222"/><rect x="448.0" y="59.3" width="5.8" height="5.8" rx="1.1" fill="#d42222"/><rect x="341.8" y="67.5" width="5.8" height="5.8" rx="1.1" fill="#d42222"/><rect x="476.6" y="59.4" width="5.8" height="5.8" rx="1.1" fill="#d42222"/><rect x="305.2" y="60.8" width="5.8" height="5.8" rx="1.1" fill="#d42222"/><rect x="452.3" y="59.9" width="5.8" height="5.8" rx="1.1" fill="#d42222"/><rect x="620.2" y="58.3" width="5.8" height="5.8" rx="1.1" fill="#d42222"/><rect x="603.4" y="61.5" width="5.8" height="5.8" rx="1.1" fill="#d42222"/><rect x="209.8" y="57.2" width="5.8" height="5.8" rx="1.1" fill="#d42222"/><rect x="409.9" y="65.7" width="5.8" height="5.8" rx="1.1" fill="#d42222"/><rect x="525.3" y="73.2" width="5.8" height="5.8" rx="1.1" fill="#d42222"/><rect x="169.8" y="60.4" width="5.8" height="5.8" rx="1.1" fill="#d42222"/><rect x="323.2" y="70.1" width="5.8" height="5.8" rx="1.1" fill="#d42222"/><rect x="366.8" y="62.5" width="5.8" height="5.8" rx="1.1" fill="#d42222"/><rect x="501.8" y="67.7" width="5.8" height="5.8" rx="1.1" fill="#d42222"/><rect x="620.8" y="70.7" width="5.8" height="5.8" rx="1.1" fill="#d42222"/><rect x="316.2" y="66.3" width="5.8" height="5.8" rx="1.1" fill="#d42222"/><rect x="434.8" y="72.4" width="5.8" height="5.8" rx="1.1" fill="#d42222"/><rect x="558.1" y="57.1" width="5.8" height="5.8" rx="1.1" fill="#d42222"/><rect x="247.4" y="68.8" width="5.8" height="5.8" rx="1.1" fill="#d42222"/><rect x="464.2" y="63.4" width="5.8" height="5.8" rx="1.1" fill="#d42222"/><rect x="597.6" y="57.0" width="5.8" height="5.8" rx="1.1" fill="#d42222"/><rect x="416.5" y="53.5" width="5.8" height="5.8" rx="1.1" fill="#d42222"/><rect x="123.2" y="62.1" width="5.8" height="5.8" rx="1.1" fill="#d42222"/><rect x="291.4" y="56.9" width="5.8" height="5.8" rx="1.1" fill="#d42222"/><rect x="531.3" y="69.0" width="5.8" height="5.8" rx="1.1" fill="#d42222"/><rect x="397.9" y="55.5" width="5.8" height="5.8" rx="1.1" fill="#d42222"/><rect x="604.4" y="57.1" width="5.8" height="5.8" rx="1.1" fill="#d42222"/><rect x="441.6" y="61.1" width="5.8" height="5.8" rx="1.1" fill="#d42222"/><rect x="249.8" y="64.6" width="5.8" height="5.8" rx="1.1" fill="#d42222"/><rect x="159.9" y="71.2" width="5.8" height="5.8" rx="1.1" fill="#d42222"/><rect x="175.0" y="57.7" width="5.8" height="5.8" rx="1.1" fill="#d42222"/><rect x="387.1" y="78.5" width="5.8" height="5.8" rx="1.1" fill="#d42222"/><rect x="128.3" y="68.0" width="5.8" height="5.8" rx="1.1" fill="#d42222"/><rect x="339.9" y="64.9" width="5.8" height="5.8" rx="1.1" fill="#d42222"/><rect x="558.3" y="61.3" width="5.8" height="5.8" rx="1.1" fill="#d42222"/><rect x="512.7" y="64.1" width="5.8" height="5.8" rx="1.1" fill="#d42222"/><rect x="474.9" y="59.3" width="5.8" height="5.8" rx="1.1" fill="#d42222"/><rect x="268.6" y="60.4" width="5.8" height="5.8" rx="1.1" fill="#d42222"/><rect x="588.9" y="63.9" width="5.8" height="5.8" rx="1.1" fill="#d42222"/><rect x="288.2" y="73.0" width="5.8" height="5.8" rx="1.1" fill="#d42222"/><rect x="367.4" y="74.9" width="5.8" height="5.8" rx="1.1" fill="#d42222"/><rect x="250.1" y="64.9" width="5.8" height="5.8" rx="1.1" fill="#d42222"/><rect x="561.8" y="59.0" width="5.8" height="5.8" rx="1.1" fill="#d42222"/><rect x="329.5" y="58.3" width="5.8" height="5.8" rx="1.1" fill="#d42222"/><rect x="407.1" y="69.2" width="5.8" height="5.8" rx="1.1" fill="#d42222"/><rect x="312.6" y="60.5" width="5.8" height="5.8" rx="1.1" fill="#d42222"/><rect x="469.9" y="56.3" width="5.8" height="5.8" rx="1.1" fill="#d42222"/><rect x="353.3" y="68.2" width="5.8" height="5.8" rx="1.1" fill="#d42222"/><rect x="164.4" y="68.5" width="5.8" height="5.8" rx="1.1" fill="#d42222"/><rect x="544.5" y="61.0" width="5.8" height="5.8" rx="1.1" fill="#d42222"/><rect x="143.1" y="64.3" width="5.8" height="5.8" rx="1.1" fill="#d42222"/><rect x="606.7" y="68.6" width="5.8" height="5.8" rx="1.1" fill="#d42222"/><rect x="164.6" y="71.7" width="5.8" height="5.8" rx="1.1" fill="#d42222"/><rect x="163.0" y="57.9" width="5.8" height="5.8" rx="1.1" fill="#d42222"/><rect x="312.4" y="62.0" width="5.8" height="5.8" rx="1.1" fill="#d42222"/><rect x="520.0" y="58.0" width="5.8" height="5.8" rx="1.1" fill="#d42222"/><rect x="356.8" y="43.1" width="5.8" height="5.8" rx="1.1" fill="#d42222"/><rect x="366.8" y="70.3" width="5.8" height="5.8" rx="1.1" fill="#d42222"/><rect x="235.3" y="58.7" width="5.8" height="5.8" rx="1.1" fill="#d42222"/><rect x="586.6" y="56.9" width="5.8" height="5.8" rx="1.1" fill="#d42222"/><rect x="141.4" y="68.4" width="5.8" height="5.8" rx="1.1" fill="#d42222"/><rect x="572.4" y="80.0" width="5.8" height="5.8" rx="1.1" fill="#d42222"/><rect x="232.3" y="60.3" width="5.8" height="5.8" rx="1.1" fill="#d42222"/><rect x="605.3" y="64.2" width="5.8" height="5.8" rx="1.1" fill="#d42222"/><rect x="468.1" y="80.5" width="5.8" height="5.8" rx="1.1" fill="#d42222"/><rect x="475.1" y="78.3" width="5.8" height="5.8" rx="1.1" fill="#d42222"/><rect x="286.3" y="65.0" width="5.8" height="5.8" rx="1.1" fill="#d42222"/><rect x="169.4" y="63.2" width="5.8" height="5.8" rx="1.1" fill="#d42222"/><rect x="392.7" y="58.9" width="5.8" height="5.8" rx="1.1" fill="#d42222"/><rect x="247.1" y="52.1" width="5.8" height="5.8" rx="1.1" fill="#d42222"/><rect x="289.2" y="60.5" width="5.8" height="5.8" rx="1.1" fill="#d42222"/><rect x="580.6" y="60.3" width="5.8" height="5.8" rx="1.1" fill="#d42222"/><rect x="567.1" y="61.9" width="5.8" height="5.8" rx="1.1" fill="#d42222"/><rect x="484.2" y="62.5" width="5.8" height="5.8" rx="1.1" fill="#d42222"/><rect x="361.0" y="60.5" width="5.8" height="5.8" rx="1.1" fill="#d42222"/><rect x="485.9" y="55.9" width="5.8" height="5.8" rx="1.1" fill="#d42222"/><rect x="121.6" y="61.3" width="5.8" height="5.8" rx="1.1" fill="#d42222"/><rect x="162.2" y="64.6" width="5.8" height="5.8" rx="1.1" fill="#d42222"/><rect x="593.0" y="59.5" width="5.8" height="5.8" rx="1.1" fill="#d42222"/><rect x="385.8" y="80.0" width="5.8" height="5.8" rx="1.1" fill="#d42222"/><rect x="485.9" y="65.0" width="5.8" height="5.8" rx="1.1" fill="#d42222"/><rect x="470.6" y="42.3" width="5.8" height="5.8" rx="1.1" fill="#d42222"/><rect x="506.1" y="63.5" width="5.8" height="5.8" rx="1.1" fill="#d42222"/><rect x="373.1" y="65.2" width="5.8" height="5.8" rx="1.1" fill="#d42222"/><rect x="460.0" y="63.6" width="5.8" height="5.8" rx="1.1" fill="#d42222"/><rect x="343.5" y="52.7" width="5.8" height="5.8" rx="1.1" fill="#d42222"/><rect x="357.6" y="57.5" width="5.8" height="5.8" rx="1.1" fill="#d42222"/><rect x="175.5" y="59.0" width="5.8" height="5.8" rx="1.1" fill="#d42222"/><rect x="539.0" y="69.3" width="5.8" height="5.8" rx="1.1" fill="#d42222"/><rect x="424.0" y="69.6" width="5.8" height="5.8" rx="1.1" fill="#d42222"/><rect x="390.0" y="59.0" width="5.8" height="5.8" rx="1.1" fill="#d42222"/><rect x="603.9" y="63.1" width="5.8" height="5.8" rx="1.1" fill="#d42222"/><rect x="448.6" y="74.5" width="5.8" height="5.8" rx="1.1" fill="#d42222"/><rect x="556.6" y="65.0" width="5.8" height="5.8" rx="1.1" fill="#d42222"/><rect x="236.6" y="62.9" width="5.8" height="5.8" rx="1.1" fill="#d42222"/><rect x="203.3" y="61.7" width="5.8" height="5.8" rx="1.1" fill="#d42222"/><rect x="524.2" y="62.2" width="5.8" height="5.8" rx="1.1" fill="#d42222"/><rect x="444.6" y="61.9" width="5.8" height="5.8" rx="1.1" fill="#d42222"/><rect x="401.3" y="61.1" width="5.8" height="5.8" rx="1.1" fill="#d42222"/><rect x="216.0" y="71.5" width="5.8" height="5.8" rx="1.1" fill="#d42222"/><rect x="490.7" y="64.5" width="5.8" height="5.8" rx="1.1" fill="#d42222"/><rect x="383.5" y="63.8" width="5.8" height="5.8" rx="1.1" fill="#d42222"/><rect x="565.8" y="60.9" width="5.8" height="5.8" rx="1.1" fill="#d42222"/><rect x="235.1" y="60.5" width="5.8" height="5.8" rx="1.1" fill="#d42222"/><rect x="267.2" y="61.4" width="5.8" height="5.8" rx="1.1" fill="#d42222"/><rect x="463.8" y="63.3" width="5.8" height="5.8" rx="1.1" fill="#d42222"/><rect x="299.9" y="55.5" width="5.8" height="5.8" rx="1.1" fill="#d42222"/><rect x="417.9" y="62.6" width="5.8" height="5.8" rx="1.1" fill="#d42222"/><rect x="106.4" y="58.2" width="5.8" height="5.8" rx="1.1" fill="#d42222"/><rect x="300.8" y="61.5" width="5.8" height="5.8" rx="1.1" fill="#d42222"/><rect x="568.9" y="65.2" width="5.8" height="5.8" rx="1.1" fill="#d42222"/><rect x="424.6" y="59.9" width="5.8" height="5.8" rx="1.1" fill="#d42222"/><rect x="161.8" y="69.2" width="5.8" height="5.8" rx="1.1" fill="#d42222"/><rect x="159.3" y="62.3" width="5.8" height="5.8" rx="1.1" fill="#d42222"/><rect x="473.7" y="46.1" width="5.8" height="5.8" rx="1.1" fill="#d42222"/><rect x="514.6" y="63.4" width="5.8" height="5.8" rx="1.1" fill="#d42222"/><rect x="325.6" y="58.2" width="5.8" height="5.8" rx="1.1" fill="#d42222"/><rect x="491.2" y="58.3" width="5.8" height="5.8" rx="1.1" fill="#d42222"/><rect x="529.8" y="48.8" width="5.8" height="5.8" rx="1.1" fill="#d42222"/><rect x="557.4" y="50.2" width="5.8" height="5.8" rx="1.1" fill="#d42222"/><rect x="437.5" y="67.0" width="5.8" height="5.8" rx="1.1" fill="#d42222"/><rect x="426.3" y="68.5" width="5.8" height="5.8" rx="1.1" fill="#d42222"/><rect x="305.8" y="66.1" width="5.8" height="5.8" rx="1.1" fill="#d42222"/><rect x="331.3" y="67.3" width="5.8" height="5.8" rx="1.1" fill="#d42222"/><rect x="445.4" y="56.2" width="5.8" height="5.8" rx="1.1" fill="#d42222"/><rect x="196.7" y="62.4" width="5.8" height="5.8" rx="1.1" fill="#d42222"/><rect x="197.0" y="62.4" width="5.8" height="5.8" rx="1.1" fill="#d42222"/><rect x="220.9" y="77.8" width="5.8" height="5.8" rx="1.1" fill="#d42222"/><rect x="596.2" y="74.8" width="5.8" height="5.8" rx="1.1" fill="#d42222"/><rect x="195.9" y="76.2" width="5.8" height="5.8" rx="1.1" fill="#d42222"/><rect x="491.4" y="63.7" width="5.8" height="5.8" rx="1.1" fill="#d42222"/><rect x="254.4" y="61.1" width="5.8" height="5.8" rx="1.1" fill="#d42222"/><rect x="275.5" y="58.3" width="5.8" height="5.8" rx="1.1" fill="#d42222"/><rect x="356.6" y="62.9" width="5.8" height="5.8" rx="1.1" fill="#d42222"/><rect x="546.8" y="65.3" width="5.8" height="5.8" rx="1.1" fill="#d42222"/><rect x="616.7" y="60.5" width="5.8" height="5.8" rx="1.1" fill="#d42222"/><rect x="145.9" y="53.6" width="5.8" height="5.8" rx="1.1" fill="#d42222"/><rect x="142.5" y="78.7" width="5.8" height="5.8" rx="1.1" fill="#d42222"/><rect x="365.8" y="71.0" width="5.8" height="5.8" rx="1.1" fill="#d42222"/><rect x="283.7" y="64.5" width="5.8" height="5.8" rx="1.1" fill="#d42222"/><rect x="259.5" y="63.5" width="5.8" height="5.8" rx="1.1" fill="#d42222"/><rect x="274.1" y="56.4" width="5.8" height="5.8" rx="1.1" fill="#d42222"/><rect x="170.3" y="78.5" width="5.8" height="5.8" rx="1.1" fill="#d42222"/><rect x="438.7" y="56.9" width="5.8" height="5.8" rx="1.1" fill="#d42222"/><rect x="153.2" y="68.2" width="5.8" height="5.8" rx="1.1" fill="#d42222"/><rect x="312.1" y="72.8" width="5.8" height="5.8" rx="1.1" fill="#d42222"/><rect x="620.2" y="65.7" width="5.8" height="5.8" rx="1.1" fill="#d42222"/><rect x="389.4" y="61.5" width="5.8" height="5.8" rx="1.1" fill="#d42222"/><rect x="595.4" y="59.3" width="5.8" height="5.8" rx="1.1" fill="#d42222"/><rect x="150.8" y="56.0" width="5.8" height="5.8" rx="1.1" fill="#d42222"/><rect x="103.3" y="67.7" width="5.8" height="5.8" rx="1.1" fill="#d42222"/><rect x="509.2" y="58.0" width="5.8" height="5.8" rx="1.1" fill="#d42222"/><rect x="338.5" y="66.1" width="5.8" height="5.8" rx="1.1" fill="#d42222"/><rect x="65.2" y="89.7" width="5.8" height="5.8" rx="1.1" fill="#111111"/><rect x="76.8" y="85.2" width="5.8" height="5.8" rx="1.1" fill="#111111"/><rect x="40.2" y="84.8" width="5.8" height="5.8" rx="1.1" fill="#111111"/><rect x="17.5" y="93.7" width="5.8" height="5.8" rx="1.1" fill="#111111"/><rect x="78.5" y="86.2" width="5.8" height="5.8" rx="1.1" fill="#111111"/><rect x="40.4" y="90.0" width="5.8" height="5.8" rx="1.1" fill="#111111"/><rect x="36.7" y="85.1" width="5.8" height="5.8" rx="1.1" fill="#111111"/><rect x="56.0" y="91.2" width="5.8" height="5.8" rx="1.1" fill="#111111"/><rect x="93.8" y="86.9" width="5.8" height="5.8" rx="1.1" fill="#111111"/><rect x="65.0" y="83.7" width="5.8" height="5.8" rx="1.1" fill="#111111"/><rect x="33.7" y="87.7" width="5.8" height="5.8" rx="1.1" fill="#111111"/><rect x="64.3" y="89.6" width="5.8" height="5.8" rx="1.1" fill="#111111"/><rect x="19.8" y="87.9" width="5.8" height="5.8" rx="1.1" fill="#111111"/><rect x="53.0" y="86.6" width="5.8" height="5.8" rx="1.1" fill="#111111"/><rect x="65.6" y="89.0" width="5.8" height="5.8" rx="1.1" fill="#111111"/><rect x="55.4" y="86.8" width="5.8" height="5.8" rx="1.1" fill="#111111"/><rect x="31.9" y="85.5" width="5.8" height="5.8" rx="1.1" fill="#111111"/><rect x="32.5" y="85.5" width="5.8" height="5.8" rx="1.1" fill="#111111"/><rect x="17.4" y="92.0" width="5.8" height="5.8" rx="1.1" fill="#111111"/><rect x="29.0" y="88.2" width="5.8" height="5.8" rx="1.1" fill="#111111"/><rect x="84.9" y="88.8" width="5.8" height="5.8" rx="1.1" fill="#111111"/><rect x="82.3" y="88.9" width="5.8" height="5.8" rx="1.1" fill="#111111"/><rect x="74.2" y="82.7" width="5.8" height="5.8" rx="1.1" fill="#111111"/><rect x="58.8" y="89.1" width="5.8" height="5.8" rx="1.1" fill="#111111"/><rect x="84.2" y="96.2" width="5.8" height="5.8" rx="1.1" fill="#111111"/><rect x="63.2" y="84.0" width="5.8" height="5.8" rx="1.1" fill="#111111"/><rect x="46.9" y="90.8" width="5.8" height="5.8" rx="1.1" fill="#111111"/><rect x="28.7" y="91.2" width="5.8" height="5.8" rx="1.1" fill="#111111"/><rect x="46.3" y="91.1" width="5.8" height="5.8" rx="1.1" fill="#111111"/><rect x="62.5" y="86.0" width="5.8" height="5.8" rx="1.1" fill="#111111"/><rect x="66.2" y="86.8" width="5.8" height="5.8" rx="1.1" fill="#111111"/><rect x="28.7" y="84.1" width="5.8" height="5.8" rx="1.1" fill="#111111"/><rect x="35.5" y="87.9" width="5.8" height="5.8" rx="1.1" fill="#111111"/><rect x="24.5" y="93.0" width="5.8" height="5.8" rx="1.1" fill="#111111"/><rect x="33.7" y="85.6" width="5.8" height="5.8" rx="1.1" fill="#111111"/><rect x="40.2" y="81.0" width="5.8" height="5.8" rx="1.1" fill="#111111"/><rect x="68.1" y="88.2" width="5.8" height="5.8" rx="1.1" fill="#111111"/><rect x="82.2" y="91.2" width="5.8" height="5.8" rx="1.1" fill="#111111"/><rect x="86.7" y="87.2" width="5.8" height="5.8" rx="1.1" fill="#111111"/><rect x="28.3" y="94.4" width="5.8" height="5.8" rx="1.1" fill="#111111"/><rect x="88.5" y="87.4" width="5.8" height="5.8" rx="1.1" fill="#111111"/><rect x="31.0" y="88.1" width="5.8" height="5.8" rx="1.1" fill="#111111"/><rect x="66.5" y="84.4" width="5.8" height="5.8" rx="1.1" fill="#111111"/><rect x="46.1" y="86.9" width="5.8" height="5.8" rx="1.1" fill="#111111"/><rect x="35.5" y="91.1" width="5.8" height="5.8" rx="1.1" fill="#111111"/><rect x="84.6" y="91.1" width="5.8" height="5.8" rx="1.1" fill="#111111"/><rect x="59.3" y="92.6" width="5.8" height="5.8" rx="1.1" fill="#111111"/><rect x="75.0" y="90.8" width="5.8" height="5.8" rx="1.1" fill="#111111"/><rect x="45.8" y="89.9" width="5.8" height="5.8" rx="1.1" fill="#111111"/><rect x="26.6" y="80.9" width="5.8" height="5.8" rx="1.1" fill="#111111"/><rect x="67.7" y="85.2" width="5.8" height="5.8" rx="1.1" fill="#111111"/><rect x="57.4" y="97.1" width="5.8" height="5.8" rx="1.1" fill="#111111"/><rect x="43.6" y="86.2" width="5.8" height="5.8" rx="1.1" fill="#111111"/><rect x="69.7" y="90.5" width="5.8" height="5.8" rx="1.1" fill="#111111"/><rect x="57.1" y="87.8" width="5.8" height="5.8" rx="1.1" fill="#111111"/><rect x="87.1" y="90.6" width="5.8" height="5.8" rx="1.1" fill="#111111"/><rect x="89.0" y="88.3" width="5.8" height="5.8" rx="1.1" fill="#111111"/><rect x="75.1" y="84.6" width="5.8" height="5.8" rx="1.1" fill="#111111"/><rect x="27.6" y="85.3" width="5.8" height="5.8" rx="1.1" fill="#111111"/><rect x="79.9" y="89.3" width="5.8" height="5.8" rx="1.1" fill="#111111"/><rect x="65.5" y="86.4" width="5.8" height="5.8" rx="1.1" fill="#111111"/><rect x="56.6" y="81.0" width="5.8" height="5.8" rx="1.1" fill="#111111"/><rect x="665.2" y="86.1" width="5.8" height="5.8" rx="1.1" fill="#111111"/><rect x="632.3" y="86.9" width="5.8" height="5.8" rx="1.1" fill="#111111"/><rect x="630.5" y="88.2" width="5.8" height="5.8" rx="1.1" fill="#111111"/><rect x="646.3" y="90.8" width="5.8" height="5.8" rx="1.1" fill="#111111"/><rect x="668.2" y="85.8" width="5.8" height="5.8" rx="1.1" fill="#111111"/><rect x="669.8" y="91.9" width="5.8" height="5.8" rx="1.1" fill="#111111"/><rect x="675.9" y="87.5" width="5.8" height="5.8" rx="1.1" fill="#111111"/><rect x="650.5" y="91.2" width="5.8" height="5.8" rx="1.1" fill="#111111"/><rect x="666.2" y="91.8" width="5.8" height="5.8" rx="1.1" fill="#111111"/><rect x="674.5" y="94.2" width="5.8" height="5.8" rx="1.1" fill="#111111"/><rect x="642.3" y="91.5" width="5.8" height="5.8" rx="1.1" fill="#111111"/><rect x="631.8" y="91.6" width="5.8" height="5.8" rx="1.1" fill="#111111"/><rect x="695.3" y="94.0" width="5.8" height="5.8" rx="1.1" fill="#111111"/><rect x="632.6" y="81.3" width="5.8" height="5.8" rx="1.1" fill="#111111"/><rect x="651.0" y="84.0" width="5.8" height="5.8" rx="1.1" fill="#111111"/><rect x="672.3" y="91.5" width="5.8" height="5.8" rx="1.1" fill="#111111"/><rect x="650.7" y="79.7" width="5.8" height="5.8" rx="1.1" fill="#111111"/><rect x="684.1" y="88.3" width="5.8" height="5.8" rx="1.1" fill="#111111"/><rect x="682.0" y="88.3" width="5.8" height="5.8" rx="1.1" fill="#111111"/><rect x="642.7" y="82.0" width="5.8" height="5.8" rx="1.1" fill="#111111"/><rect x="673.2" y="84.2" width="5.8" height="5.8" rx="1.1" fill="#111111"/><rect x="635.7" y="90.1" width="5.8" height="5.8" rx="1.1" fill="#111111"/><rect x="672.7" y="89.7" width="5.8" height="5.8" rx="1.1" fill="#111111"/><rect x="684.5" y="85.5" width="5.8" height="5.8" rx="1.1" fill="#111111"/><rect x="678.9" y="84.6" width="5.8" height="5.8" rx="1.1" fill="#111111"/><rect x="690.7" y="85.0" width="5.8" height="5.8" rx="1.1" fill="#111111"/><rect x="630.9" y="89.5" width="5.8" height="5.8" rx="1.1" fill="#111111"/><rect x="643.9" y="82.5" width="5.8" height="5.8" rx="1.1" fill="#111111"/><rect x="694.3" y="87.7" width="5.8" height="5.8" rx="1.1" fill="#111111"/><rect x="646.5" y="82.3" width="5.8" height="5.8" rx="1.1" fill="#111111"/><rect x="674.4" y="91.1" width="5.8" height="5.8" rx="1.1" fill="#111111"/><rect x="655.4" y="88.4" width="5.8" height="5.8" rx="1.1" fill="#111111"/><rect x="674.8" y="92.7" width="5.8" height="5.8" rx="1.1" fill="#111111"/><rect x="655.1" y="79.3" width="5.8" height="5.8" rx="1.1" fill="#111111"/><rect x="666.3" y="80.2" width="5.8" height="5.8" rx="1.1" fill="#111111"/><rect x="646.2" y="85.4" width="5.8" height="5.8" rx="1.1" fill="#111111"/><rect x="660.7" y="93.4" width="5.8" height="5.8" rx="1.1" fill="#111111"/><rect x="681.0" y="83.4" width="5.8" height="5.8" rx="1.1" fill="#111111"/><rect x="649.8" y="92.6" width="5.8" height="5.8" rx="1.1" fill="#111111"/><rect x="681.8" y="88.3" width="5.8" height="5.8" rx="1.1" fill="#111111"/><rect x="638.3" y="88.3" width="5.8" height="5.8" rx="1.1" fill="#111111"/><rect x="634.7" y="90.3" width="5.8" height="5.8" rx="1.1" fill="#111111"/><rect x="647.7" y="83.9" width="5.8" height="5.8" rx="1.1" fill="#111111"/><rect x="686.6" y="85.4" width="5.8" height="5.8" rx="1.1" fill="#111111"/><rect x="642.0" y="83.0" width="5.8" height="5.8" rx="1.1" fill="#111111"/><rect x="690.1" y="88.1" width="5.8" height="5.8" rx="1.1" fill="#111111"/><rect x="678.2" y="95.0" width="5.8" height="5.8" rx="1.1" fill="#111111"/><rect x="679.3" y="86.2" width="5.8" height="5.8" rx="1.1" fill="#111111"/><rect x="686.1" y="89.6" width="5.8" height="5.8" rx="1.1" fill="#111111"/><rect x="654.7" y="89.1" width="5.8" height="5.8" rx="1.1" fill="#111111"/><rect x="664.9" y="88.4" width="5.8" height="5.8" rx="1.1" fill="#111111"/><rect x="642.3" y="87.0" width="5.8" height="5.8" rx="1.1" fill="#111111"/><rect x="666.1" y="92.9" width="5.8" height="5.8" rx="1.1" fill="#111111"/><rect x="691.0" y="88.1" width="5.8" height="5.8" rx="1.1" fill="#111111"/><rect x="641.8" y="85.9" width="5.8" height="5.8" rx="1.1" fill="#111111"/><rect x="673.6" y="80.8" width="5.8" height="5.8" rx="1.1" fill="#111111"/><rect x="697.9" y="92.0" width="5.8" height="5.8" rx="1.1" fill="#111111"/><rect x="687.3" y="90.8" width="5.8" height="5.8" rx="1.1" fill="#111111"/><rect x="656.4" y="89.0" width="5.8" height="5.8" rx="1.1" fill="#111111"/><rect x="641.8" y="87.3" width="5.8" height="5.8" rx="1.1" fill="#111111"/><rect x="681.4" y="94.1" width="5.8" height="5.8" rx="1.1" fill="#111111"/><rect x="659.8" y="87.9" width="5.8" height="5.8" rx="1.1" fill="#111111"/><rect x="658.1" y="85.6" width="5.8" height="5.8" rx="1.1" fill="#111111"/><rect x="687.4" y="90.1" width="5.8" height="5.8" rx="1.1" fill="#111111"/><rect x="655.8" y="86.7" width="5.8" height="5.8" rx="1.1" fill="#111111"/><rect x="678.9" y="87.8" width="5.8" height="5.8" rx="1.1" fill="#111111"/><rect x="686.4" y="86.5" width="5.8" height="5.8" rx="1.1" fill="#111111"/><rect x="655.8" y="87.2" width="5.8" height="5.8" rx="1.1" fill="#111111"/><rect x="681.6" y="81.7" width="5.8" height="5.8" rx="1.1" fill="#111111"/><rect x="639.3" y="84.7" width="5.8" height="5.8" rx="1.1" fill="#111111"/><rect x="686.0" y="85.0" width="5.8" height="5.8" rx="1.1" fill="#111111"/><rect x="637.6" y="82.6" width="5.8" height="5.8" rx="1.1" fill="#111111"/><rect x="697.3" y="86.8" width="5.8" height="5.8" rx="1.1" fill="#111111"/><rect x="668.8" y="88.9" width="5.8" height="5.8" rx="1.1" fill="#111111"/><rect x="680.9" y="84.1" width="5.8" height="5.8" rx="1.1" fill="#111111"/><rect x="692.2" y="96.2" width="5.8" height="5.8" rx="1.1" fill="#111111"/><rect x="682.2" y="87.3" width="5.8" height="5.8" rx="1.1" fill="#111111"/><rect x="661.8" y="89.4" width="5.8" height="5.8" rx="1.1" fill="#111111"/><rect x="650.8" y="83.7" width="5.8" height="5.8" rx="1.1" fill="#111111"/><rect x="678.8" y="84.5" width="5.8" height="5.8" rx="1.1" fill="#111111"/><rect x="633.0" y="94.2" width="5.8" height="5.8" rx="1.1" fill="#111111"/><rect x="690.4" y="90.3" width="5.8" height="5.8" rx="1.1" fill="#111111"/><rect x="646.1" y="87.3" width="5.8" height="5.8" rx="1.1" fill="#111111"/><rect x="644.8" y="82.7" width="5.8" height="5.8" rx="1.1" fill="#111111"/><rect x="663.8" y="94.0" width="5.8" height="5.8" rx="1.1" fill="#111111"/><rect x="641.3" y="84.3" width="5.8" height="5.8" rx="1.1" fill="#111111"/><rect x="662.5" y="86.1" width="5.8" height="5.8" rx="1.1" fill="#111111"/><rect x="675.3" y="87.3" width="5.8" height="5.8" rx="1.1" fill="#111111"/><rect x="665.5" y="89.3" width="5.8" height="5.8" rx="1.1" fill="#111111"/><rect x="664.7" y="87.9" width="5.8" height="5.8" rx="1.1" fill="#111111"/><rect x="666.1" y="87.8" width="5.8" height="5.8" rx="1.1" fill="#111111"/><rect x="683.7" y="95.6" width="5.8" height="5.8" rx="1.1" fill="#111111"/><rect x="641.5" y="88.3" width="5.8" height="5.8" rx="1.1" fill="#111111"/><rect x="636.9" y="89.7" width="5.8" height="5.8" rx="1.1" fill="#111111"/><rect x="694.1" y="82.5" width="5.8" height="5.8" rx="1.1" fill="#111111"/><rect x="696.0" y="90.9" width="5.8" height="5.8" rx="1.1" fill="#111111"/><rect x="664.0" y="81.3" width="5.8" height="5.8" rx="1.1" fill="#111111"/><rect x="692.2" y="85.4" width="5.8" height="5.8" rx="1.1" fill="#111111"/><rect x="650.9" y="97.1" width="5.8" height="5.8" rx="1.1" fill="#111111"/><rect x="633.7" y="85.0" width="5.8" height="5.8" rx="1.1" fill="#111111"/><rect x="661.2" y="87.9" width="5.8" height="5.8" rx="1.1" fill="#111111"/><rect x="681.6" y="83.5" width="5.8" height="5.8" rx="1.1" fill="#111111"/><rect x="681.6" y="83.5" width="5.8" height="5.8" rx="1.1" fill="#111111"/><rect x="687.7" y="92.4" width="5.8" height="5.8" rx="1.1" fill="#111111"/><rect x="679.9" y="86.2" width="5.8" height="5.8" rx="1.1" fill="#111111"/><rect x="640.7" y="87.6" width="5.8" height="5.8" rx="1.1" fill="#111111"/><rect x="640.5" y="86.7" width="5.8" height="5.8" rx="1.1" fill="#111111"/><rect x="670.3" y="82.3" width="5.8" height="5.8" rx="1.1" fill="#111111"/><rect x="693.7" y="87.3" width="5.8" height="5.8" rx="1.1" fill="#111111"/><rect x="664.6" y="92.1" width="5.8" height="5.8" rx="1.1" fill="#111111"/><rect x="100.9" y="93.0" width="5.8" height="5.8" rx="1.1" fill="#2a0d0d"/><rect x="110.7" y="92.6" width="5.8" height="5.8" rx="1.1" fill="#10301c"/><rect x="217.7" y="90.7" width="5.8" height="5.8" rx="1.1" fill="#2a0d0d"/><rect x="255.0" y="89.3" width="5.8" height="5.8" rx="1.1" fill="#2a0d0d"/><rect x="280.6" y="91.5" width="5.8" height="5.8" rx="1.1" fill="#10301c"/><rect x="329.3" y="87.2" width="5.8" height="5.8" rx="1.1" fill="#2a0d0d"/><rect x="343.3" y="92.7" width="5.8" height="5.8" rx="1.1" fill="#2a0d0d"/><rect x="375.2" y="90.3" width="5.8" height="5.8" rx="1.1" fill="#10301c"/><rect x="378.8" y="92.4" width="5.8" height="5.8" rx="1.1" fill="#2a0d0d"/><rect x="451.6" y="92.2" width="5.8" height="5.8" rx="1.1" fill="#10301c"/><rect x="485.8" y="88.8" width="5.8" height="5.8" rx="1.1" fill="#2a0d0d"/><rect x="527.6" y="92.2" width="5.8" height="5.8" rx="1.1" fill="#10301c"/><rect x="556.8" y="92.2" width="5.8" height="5.8" rx="1.1" fill="#2a0d0d"/><rect x="572.0" y="90.1" width="5.8" height="5.8" rx="1.1" fill="#2a0d0d"/><rect x="591.6" y="88.0" width="5.8" height="5.8" rx="1.1" fill="#2a0d0d"/><rect x="612.1" y="86.8" width="5.8" height="5.8" rx="1.1" fill="#10301c"/><rect x="623.4" y="89.2" width="5.8" height="5.8" rx="1.1" fill="#10301c"/><path d="M20.0,93.2 L22.3,92.9 L24.6,92.6 L26.8,92.2 L29.1,91.9 L31.4,91.5 L33.7,91.2 L35.9,90.9 L38.2,90.7 L40.5,90.5 L42.8,90.5 L45.1,90.6 L47.3,90.7 L49.6,91.0 L51.9,91.3 L54.2,91.6 L56.4,92.0 L58.7,92.4 L61.0,92.7 L63.3,93.0 L65.6,93.3 L67.8,93.4 L70.1,93.5 L72.4,93.5 L74.7,93.4 L76.9,93.2 L79.2,92.9 L81.5,92.5 L83.8,92.2 L86.1,91.8 L88.3,91.3 L90.6,86.4 L92.9,81.4 L95.2,76.5 L97.4,71.6 L99.7,66.6 L102.0,67.2 L104.3,67.3 L106.5,67.3 L108.8,67.1 L111.1,66.8 L113.4,66.4 L115.7,65.9 L117.9,65.4 L120.2,64.9 L122.5,64.6 L124.8,64.4 L127.0,64.4 L129.3,64.5 L131.6,64.8 L133.9,65.1 L136.2,65.4 L138.4,65.7 L140.7,65.9 L143.0,66.0 L145.3,66.0 L147.5,65.8 L149.8,65.6 L152.1,65.5 L154.4,65.4 L156.7,65.4 L158.9,65.6 L161.2,65.9 L163.5,66.4 L165.8,66.9 L168.0,67.4 L170.3,67.9 L172.6,68.2 L174.9,68.4 L177.2,68.5 L179.4,68.4 L181.7,68.1 L184.0,67.9 L186.3,67.6 L188.5,67.3 L190.8,67.2 L193.1,67.1 L195.4,67.2 L197.7,67.4 L199.9,67.6 L202.2,67.8 L204.5,67.9 L206.8,67.9 L209.0,67.7 L211.3,67.4 L213.6,66.9 L215.9,66.4 L218.2,65.9 L220.4,65.4 L222.7,65.0 L225.0,64.8 L227.3,64.7 L229.5,64.8 L231.8,65.0 L234.1,65.2 L236.4,65.5 L238.6,65.7 L240.9,65.8 L243.2,65.8 L245.5,65.6 L247.8,65.4 L250.0,65.2 L252.3,65.0 L254.6,64.9 L256.9,64.9 L259.1,65.0 L261.4,65.4 L263.7,65.8 L266.0,66.3 L268.3,66.9 L270.5,67.4 L272.8,67.7 L275.1,68.0 L277.4,68.1 L279.6,68.0 L281.9,67.8 L284.2,67.6 L286.5,67.4 L288.8,67.2 L291.0,67.2 L293.3,67.3 L295.6,67.4 L297.9,67.7 L300.1,68.0 L302.4,68.2 L304.7,68.3 L307.0,68.4 L309.3,68.2 L311.5,67.9 L313.8,67.4 L316.1,66.9 L318.4,66.4 L320.6,65.9 L322.9,65.5 L325.2,65.3 L327.5,65.2 L329.8,65.3 L332.0,65.4 L334.3,65.6 L336.6,65.8 L338.9,65.9 L341.1,65.9 L343.4,65.8 L345.7,65.5 L348.0,65.3 L350.3,64.9 L352.5,64.7 L354.8,64.5 L357.1,64.5 L359.4,64.6 L361.6,64.9 L363.9,65.3 L366.2,65.8 L368.5,66.4 L370.7,66.8 L373.0,67.2 L375.3,67.4 L377.6,67.5 L379.9,67.5 L382.1,67.3 L384.4,67.2 L386.7,67.0 L389.0,66.9 L391.2,67.0 L393.5,67.1 L395.8,67.4 L398.1,67.8 L400.4,68.1 L402.6,68.4 L404.9,68.6 L407.2,68.7 L409.5,68.6 L411.7,68.3 L414.0,67.9 L416.3,67.4 L418.6,66.9 L420.9,66.4 L423.1,66.1 L425.4,65.9 L427.7,65.8 L430.0,65.8 L432.2,66.0 L434.5,66.1 L436.8,66.2 L439.1,66.3 L441.4,66.2 L443.6,66.0 L445.9,65.7 L448.2,65.3 L450.5,64.9 L452.7,64.6 L455.0,64.3 L457.3,64.2 L459.6,64.3 L461.9,64.6 L464.1,65.0 L466.4,65.4 L468.7,65.9 L471.0,66.3 L473.2,66.6 L475.5,66.8 L477.8,66.9 L480.1,66.8 L482.4,66.7 L484.6,66.6 L486.9,66.5 L489.2,66.5 L491.5,66.6 L493.7,66.8 L496.0,67.2 L498.3,67.6 L500.6,68.0 L502.8,68.4 L505.1,68.7 L507.4,68.8 L509.7,68.7 L512.0,68.5 L514.2,68.2 L516.5,67.7 L518.8,67.3 L521.1,66.9 L523.3,66.6 L525.6,66.4 L527.9,66.4 L530.2,66.5 L532.5,66.6 L534.7,66.7 L537.0,66.8 L539.3,66.8 L541.6,66.7 L543.8,66.4 L546.1,66.0 L548.4,65.5 L550.7,65.1 L553.0,64.7 L555.2,64.4 L557.5,64.2 L559.8,64.3 L562.1,64.5 L564.3,64.8 L566.6,65.2 L568.9,65.6 L571.2,65.9 L573.5,66.2 L575.7,66.3 L578.0,66.3 L580.3,66.2 L582.6,66.1 L584.8,66.0 L587.1,65.9 L589.4,65.9 L591.7,66.1 L594.0,66.4 L596.2,66.8 L598.5,67.3 L600.8,67.8 L603.1,68.2 L605.3,68.5 L607.6,68.7 L609.9,68.7 L612.2,68.5 L614.5,68.2 L616.7,67.9 L619.0,67.5 L621.3,67.2 L623.6,67.0 L625.8,66.9 L628.1,66.3 L630.4,71.2 L632.7,76.1 L634.9,81.1 L637.2,86.0 L639.5,90.9 L641.8,92.1 L644.1,91.9 L646.3,91.7 L648.6,91.7 L650.9,91.7 L653.2,91.9 L655.4,92.0 L657.7,92.3 L660.0,92.5 L662.3,92.8 L664.6,93.0 L666.8,93.2 L669.1,93.3 L671.4,93.3 L673.7,93.2 L675.9,93.1 L678.2,92.9 L680.5,92.6 L682.8,92.4 L685.1,92.1 L687.3,91.9 L689.6,91.8 L691.9,91.7 L694.2,91.7 L696.4,91.8 L698.7,92.0 L701.0,92.2" fill="none" stroke="#3fb037" stroke-width="1.6"/><path d="M20.0,93.9 L22.3,93.7 L24.6,93.5 L26.8,93.2 L29.1,92.8 L31.4,92.5 L33.7,92.2 L35.9,91.8 L38.2,91.6 L40.5,91.3 L42.8,91.1 L45.1,91.0 L47.3,91.0 L49.6,91.0 L51.9,91.2 L54.2,91.4 L56.4,91.6 L58.7,91.9 L61.0,92.2 L63.3,92.6 L65.6,92.9 L67.8,93.2 L70.1,93.5 L72.4,93.7 L74.7,93.9 L76.9,94.0 L79.2,94.0 L88.0,97.0 L92.0,103.0 L95.0,107.7 L100.0,110.3 L110.4,114.0 L120.7,116.7 L128.4,116.0 L138.7,115.4 L146.4,118.0 L159.2,120.5 L167.0,122.6 L174.6,118.0 L182.3,111.6 L190.0,115.4 L197.7,119.3 L205.4,118.0 L215.7,115.4 L223.4,114.0 L231.0,116.7 L238.8,118.0 L249.0,117.5 L262.0,116.7 L274.8,117.5 L282.8,116.7 L295.7,117.5 L308.5,118.5 L318.8,121.8 L329.0,123.0 L336.8,121.8 L347.0,112.8 L354.7,111.6 L362.4,114.0 L372.7,112.8 L380.4,110.8 L388.0,114.0 L395.8,118.0 L403.5,120.5 L413.8,120.5 L424.0,119.3 L434.4,115.4 L444.6,112.8 L453.3,113.9 L464.5,115.3 L475.6,115.3 L489.5,114.5 L500.6,115.3 L514.5,115.3 L528.4,112.5 L539.6,111.1 L550.7,109.7 L559.0,111.1 L567.4,118.0 L575.7,122.3 L584.0,119.5 L592.4,115.3 L600.8,118.0 L611.9,120.9 L620.2,119.5 L628.6,111.1 L633.0,102.0 L637.0,96.0 L642.0,93.0 L644.1,92.3 L646.3,91.9 L648.6,91.4 L650.9,90.9 L653.2,90.4 L655.4,89.9 L657.7,89.5 L660.0,89.2 L662.3,89.1 L664.6,89.0 L666.8,89.1 L669.1,89.3 L671.4,89.6 L673.7,90.0 L675.9,90.4 L678.2,90.9 L680.5,91.4 L682.8,91.9 L685.1,92.3 L687.3,92.7 L689.6,92.9 L691.9,93.0 L694.2,93.0 L696.4,92.8 L698.7,92.6 L701.0,92.2" fill="none" stroke="#cc2428" stroke-width="1.8"/><rect x="647.5" y="108" width="16.5" height="6" fill="#8c93b5"/><rect x="696.5" y="52.5" width="3" height="4.5" fill="#8890b4"/><rect x="223.5" y="52.3" width="3" height="4.5" fill="#8890b4"/><rect x="383" y="53" width="3" height="4.5" fill="#8890b4"/><rect x="678" y="108" width="18.5" height="6" fill="#8c93b5"/><line x1="341.1" y1="0" x2="341.1" y2="166.8" stroke="#56509c" stroke-width="1.9"/><text x="13.8" y="44" text-anchor="end" font-family="Liberation Sans" font-size="12.3" fill="#111" stroke="#111" stroke-width="0.3">2</text><text x="13.8" y="70.5" text-anchor="end" font-family="Liberation Sans" font-size="12.3" fill="#111" stroke="#111" stroke-width="0.3">1</text><text x="13.8" y="96" text-anchor="end" font-family="Liberation Sans" font-size="12.3" fill="#111" stroke="#111" stroke-width="0.3">0</text><text x="13.8" y="122.5" text-anchor="end" font-family="Liberation Sans" font-size="12.3" fill="#111" stroke="#111" stroke-width="0.3">-1</text><text x="13.8" y="149" text-anchor="end" font-family="Liberation Sans" font-size="12.3" fill="#111" stroke="#111" stroke-width="0.3">-2</text><text x="-0.4" y="16.6" font-family="Liberation Sans" font-weight="bold" font-size="18.5" fill="#000">a</text></g>
<g id="ax"><line x1="20.6" y1="189.4" x2="701" y2="189.4" stroke="#111" stroke-width="1.4"/><line x1="86.5" y1="186" x2="86.5" y2="199.6" stroke="#111" stroke-width="2"/><text x="86.0" y="214.4" font-family="Liberation Sans" font-size="11" fill="#111">221.6 Mb</text><line x1="216.3" y1="186" x2="216.3" y2="199.6" stroke="#111" stroke-width="2"/><text x="215.8" y="214.4" font-family="Liberation Sans" font-size="11" fill="#111">223.0 Mb</text><line x1="345.8" y1="186" x2="345.8" y2="199.6" stroke="#111" stroke-width="2"/><text x="345.3" y="214.4" font-family="Liberation Sans" font-size="11" fill="#111">224.4 Mb</text><line x1="474.8" y1="186" x2="474.8" y2="199.6" stroke="#111" stroke-width="2"/><text x="474.3" y="214.4" font-family="Liberation Sans" font-size="11" fill="#111">225.7 Mb</text><line x1="605.8" y1="186" x2="605.8" y2="199.6" stroke="#111" stroke-width="2"/><text x="605.3" y="214.4" font-family="Liberation Sans" font-size="11" fill="#111">227.1 Mb</text><line x1="346.5" y1="178.5" x2="346.5" y2="218" stroke="#56509c" stroke-width="1.6"/></g>
<g id="pb"><text x="71" y="241.8" font-family="Liberation Sans" font-weight="bold" font-size="17.8" fill="#000">b</text><line x1="106.0" y1="233" x2="106.0" y2="362.8" stroke="#d8d8f4" stroke-width="1"/><line x1="114.3" y1="233" x2="114.3" y2="362.8" stroke="#d8d8f4" stroke-width="1"/><line x1="122.6" y1="233" x2="122.6" y2="362.8" stroke="#d8d8f4" stroke-width="1"/><line x1="130.9" y1="233" x2="130.9" y2="362.8" stroke="#d8d8f4" stroke-width="1"/><line x1="139.1" y1="233" x2="139.1" y2="362.8" stroke="#d8d8f4" stroke-width="1"/><line x1="147.4" y1="233" x2="147.4" y2="362.8" stroke="#d8d8f4" stroke-width="1"/><line x1="155.7" y1="233" x2="155.7" y2="362.8" stroke="#d8d8f4" stroke-width="1"/><line x1="164.0" y1="233" x2="164.0" y2="362.8" stroke="#d8d8f4" stroke-width="1"/><line x1="172.3" y1="233" x2="172.3" y2="362.8" stroke="#d8d8f4" stroke-width="1"/><line x1="180.6" y1="233" x2="180.6" y2="362.8" stroke="#d8d8f4" stroke-width="1"/><line x1="188.8" y1="233" x2="188.8" y2="362.8" stroke="#d8d8f4" stroke-width="1"/><line x1="197.1" y1="233" x2="197.1" y2="362.8" stroke="#d8d8f4" stroke-width="1"/><line x1="205.4" y1="233" x2="205.4" y2="362.8" stroke="#d8d8f4" stroke-width="1"/><line x1="213.7" y1="233" x2="213.7" y2="362.8" stroke="#d8d8f4" stroke-width="1"/><line x1="222.0" y1="233" x2="222.0" y2="362.8" stroke="#d8d8f4" stroke-width="1"/><line x1="230.3" y1="233" x2="230.3" y2="362.8" stroke="#d8d8f4" stroke-width="1"/><line x1="238.6" y1="233" x2="238.6" y2="362.8" stroke="#d8d8f4" stroke-width="1"/><line x1="246.8" y1="233" x2="246.8" y2="362.8" stroke="#d8d8f4" stroke-width="1"/><line x1="255.1" y1="233" x2="255.1" y2="362.8" stroke="#d8d8f4" stroke-width="1"/><line x1="263.4" y1="233" x2="263.4" y2="362.8" stroke="#d8d8f4" stroke-width="1"/><line x1="271.7" y1="233" x2="271.7" y2="362.8" stroke="#d8d8f4" stroke-width="1"/><line x1="280.0" y1="233" x2="280.0" y2="362.8" stroke="#d8d8f4" stroke-width="1"/><line x1="288.3" y1="233" x2="288.3" y2="362.8" stroke="#d8d8f4" stroke-width="1"/><line x1="296.6" y1="233" x2="296.6" y2="362.8" stroke="#d8d8f4" stroke-width="1"/><line x1="304.8" y1="233" x2="304.8" y2="362.8" stroke="#d8d8f4" stroke-width="1"/><line x1="313.1" y1="233" x2="313.1" y2="362.8" stroke="#d8d8f4" stroke-width="1"/><line x1="321.4" y1="233" x2="321.4" y2="362.8" stroke="#d8d8f4" stroke-width="1"/><line x1="329.7" y1="233" x2="329.7" y2="362.8" stroke="#d8d8f4" stroke-width="1"/><line x1="338.0" y1="233" x2="338.0" y2="362.8" stroke="#d8d8f4" stroke-width="1"/><line x1="346.3" y1="233" x2="346.3" y2="362.8" stroke="#d8d8f4" stroke-width="1"/><line x1="354.6" y1="233" x2="354.6" y2="362.8" stroke="#d8d8f4" stroke-width="1"/><line x1="362.8" y1="233" x2="362.8" y2="362.8" stroke="#d8d8f4" stroke-width="1"/><line x1="371.1" y1="233" x2="371.1" y2="362.8" stroke="#d8d8f4" stroke-width="1"/><line x1="379.4" y1="233" x2="379.4" y2="362.8" stroke="#d8d8f4" stroke-width="1"/><line x1="387.7" y1="233" x2="387.7" y2="362.8" stroke="#d8d8f4" stroke-width="1"/><line x1="396.0" y1="233" x2="396.0" y2="362.8" stroke="#d8d8f4" stroke-width="1"/><line x1="404.3" y1="233" x2="404.3" y2="362.8" stroke="#d8d8f4" stroke-width="1"/><line x1="412.5" y1="233" x2="412.5" y2="362.8" stroke="#d8d8f4" stroke-width="1"/><line x1="420.8" y1="233" x2="420.8" y2="362.8" stroke="#d8d8f4" stroke-width="1"/><line x1="429.1" y1="233" x2="429.1" y2="362.8" stroke="#d8d8f4" stroke-width="1"/><line x1="437.4" y1="233" x2="437.4" y2="362.8" stroke="#d8d8f4" stroke-width="1"/><line x1="445.7" y1="233" x2="445.7" y2="362.8" stroke="#d8d8f4" stroke-width="1"/><line x1="454.0" y1="233" x2="454.0" y2="362.8" stroke="#d8d8f4" stroke-width="1"/><line x1="462.3" y1="233" x2="462.3" y2="362.8" stroke="#d8d8f4" stroke-width="1"/><line x1="470.5" y1="233" x2="470.5" y2="362.8" stroke="#d8d8f4" stroke-width="1"/><line x1="478.8" y1="233" x2="478.8" y2="362.8" stroke="#d8d8f4" stroke-width="1"/><line x1="487.1" y1="233" x2="487.1" y2="362.8" stroke="#d8d8f4" stroke-width="1"/><line x1="495.4" y1="233" x2="495.4" y2="362.8" stroke="#d8d8f4" stroke-width="1"/><line x1="503.7" y1="233" x2="503.7" y2="362.8" stroke="#d8d8f4" stroke-width="1"/><line x1="512.0" y1="233" x2="512.0" y2="362.8" stroke="#d8d8f4" stroke-width="1"/><line x1="520.2" y1="233" x2="520.2" y2="362.8" stroke="#d8d8f4" stroke-width="1"/><line x1="528.5" y1="233" x2="528.5" y2="362.8" stroke="#d8d8f4" stroke-width="1"/><line x1="536.8" y1="233" x2="536.8" y2="362.8" stroke="#d8d8f4" stroke-width="1"/><line x1="545.1" y1="233" x2="545.1" y2="362.8" stroke="#d8d8f4" stroke-width="1"/><line x1="553.4" y1="233" x2="553.4" y2="362.8" stroke="#d8d8f4" stroke-width="1"/><line x1="561.7" y1="233" x2="561.7" y2="362.8" stroke="#d8d8f4" stroke-width="1"/><line x1="570.0" y1="233" x2="570.0" y2="362.8" stroke="#d8d8f4" stroke-width="1"/><line x1="578.2" y1="233" x2="578.2" y2="362.8" stroke="#d8d8f4" stroke-width="1"/><line x1="586.5" y1="233" x2="586.5" y2="362.8" stroke="#d8d8f4" stroke-width="1"/><line x1="594.8" y1="233" x2="594.8" y2="362.8" stroke="#d8d8f4" stroke-width="1"/><line x1="603.1" y1="233" x2="603.1" y2="362.8" stroke="#d8d8f4" stroke-width="1"/><line x1="611.4" y1="233" x2="611.4" y2="362.8" stroke="#d8d8f4" stroke-width="1"/><line x1="619.7" y1="233" x2="619.7" y2="362.8" stroke="#d8d8f4" stroke-width="1"/><rect x="103" y="239.6" width="335" height="6" fill="#2a2a2a"/><rect x="525.6" y="239.6" width="101.4" height="6" fill="#000"/><rect x="439" y="246.6" width="86.6" height="5" fill="#d6d6d6"/><text x="251.6" y="244.8" font-family="Liberation Mono" font-size="6.9" fill="#d8d8d8">2q36.1</text><text x="470" y="251.4" font-family="Liberation Mono" font-size="6.9" fill="#222">2q36.2</text><text x="443.6" y="238.2" font-family="Liberation Mono" font-size="6.95" fill="#111">Chromosome Bands Localized by FISH Mapping C</text><text x="391.7" y="257.9" font-family="Liberation Mono" font-size="6.87" fill="#3a3a8a">GENCODE v24 Comprehensive Transcript Set (only Basic disp</text><path d="M161.6,231 H172.4 V241.6 H178.5 L167,253 L155.5,241.6 H161.6 Z" fill="#e0231f"/><path d="M228.6,231 H239.4 V241.6 H245.5 L234,253 L222.5,241.6 H228.6 Z" fill="#e0231f"/><text x="156.8" y="264.7" text-anchor="end" font-family="Liberation Mono" font-size="7" font-weight="bold" fill="#000">EPHA4</text><line x1="159" y1="262.4" x2="174.5" y2="262.4" stroke="#000" stroke-width="0.9"/><rect x="159.2" y="259.9" width="3.9" height="5" fill="#000"/><rect x="165" y="259.9" width="2.5" height="5" fill="#000"/><rect x="173.8" y="259.9" width="1" height="5" fill="#000"/><text x="156.8" y="271.6" text-anchor="end" font-family="Liberation Mono" font-size="7" font-weight="bold" fill="#35358a">EPHA4</text><line x1="159" y1="269.3" x2="174.5" y2="269.3" stroke="#35358a" stroke-width="0.9"/><rect x="159.5" y="266.8" width="3.4" height="5" fill="#35358a"/><rect x="165" y="266.8" width="2.5" height="5" fill="#35358a"/><rect x="173.8" y="266.8" width="1" height="5" fill="#35358a"/><rect x="130" y="274.4" width="0.9" height="3.6" fill="#5a5aa0"/><text x="156.8" y="285.3" text-anchor="end" font-family="Liberation Mono" font-size="7" font-weight="bold" fill="#000">EPHA4</text><line x1="159" y1="283.0" x2="175" y2="283.0" stroke="#000" stroke-width="0.9"/><rect x="159.5" y="280.5" width="3.5" height="5" fill="#000"/><rect x="165" y="280.5" width="2.5" height="5" fill="#000"/><rect x="173.8" y="280.5" width="1.2" height="5" fill="#000"/><text x="166" y="292.2" text-anchor="end" font-family="Liberation Mono" font-size="7" fill="#5a5aa0">AC079834.2</text><rect x="168" y="288.1" width="0.9" height="3.6" fill="#5a5aa0"/><text x="170" y="299.1" text-anchor="end" font-family="Liberation Mono" font-size="7" fill="#5a5aa0">CTD-2308L22.1</text><rect x="172" y="295.0" width="0.9" height="3.6" fill="#5a5aa0"/><text x="180" y="306.0" text-anchor="end" font-family="Liberation Mono" font-size="7" fill="#5a5aa0">AC068489.1</text><rect x="183" y="301.9" width="0.9" height="3.6" fill="#5a5aa0"/><text x="232.5" y="264.7" text-anchor="end" font-family="Liberation Mono" font-size="7" font-weight="bold" fill="#000">PAX3</text><line x1="234" y1="262.4" x2="245" y2="262.4" stroke="#000" stroke-width="0.9"/><rect x="234.5" y="259.9" width="2" height="5" fill="#000"/><rect x="237" y="259.9" width="1.5" height="5" fill="#000"/><rect x="244.5" y="260.4" width="0.9" height="4" fill="#000"/><text x="232.5" y="271.6" text-anchor="end" font-family="Liberation Mono" font-size="7" font-weight="bold" fill="#000">PAX3</text><line x1="234" y1="269.3" x2="245" y2="269.3" stroke="#000" stroke-width="0.9"/><rect x="234.5" y="266.8" width="2" height="5" fill="#000"/><rect x="237" y="266.8" width="1.5" height="5" fill="#000"/><rect x="244.5" y="267.3" width="0.9" height="4" fill="#000"/><text x="232.5" y="278.5" text-anchor="end" font-family="Liberation Mono" font-size="7" font-weight="bold" fill="#000">PAX3</text><line x1="234" y1="276.2" x2="245" y2="276.2" stroke="#000" stroke-width="0.9"/><rect x="234.5" y="273.7" width="2" height="5" fill="#000"/><rect x="237" y="273.7" width="1.5" height="5" fill="#000"/><rect x="244.5" y="274.2" width="0.9" height="4" fill="#000"/><text x="232.5" y="285.3" text-anchor="end" font-family="Liberation Mono" font-size="7" font-weight="bold" fill="#000">PAX3</text><line x1="234" y1="283.0" x2="245" y2="283.0" stroke="#000" stroke-width="0.9"/><rect x="234.5" y="280.5" width="2" height="5" fill="#000"/><rect x="237" y="280.5" width="1.5" height="5" fill="#000"/><rect x="244.5" y="281.0" width="0.9" height="4" fill="#000"/><text x="232.5" y="292.2" text-anchor="end" font-family="Liberation Mono" font-size="7" font-weight="bold" fill="#000">PAX3</text><line x1="234" y1="289.9" x2="245" y2="289.9" stroke="#000" stroke-width="0.9"/><rect x="234.5" y="287.4" width="2" height="5" fill="#000"/><rect x="237" y="287.4" width="1.5" height="5" fill="#000"/><rect x="244.5" y="287.9" width="0.9" height="4" fill="#000"/><text x="232.5" y="299.1" text-anchor="end" font-family="Liberation Mono" font-size="7" font-weight="bold" fill="#000">PAX3</text><line x1="234" y1="296.8" x2="245" y2="296.8" stroke="#000" stroke-width="0.9"/><rect x="234.5" y="294.3" width="2" height="5" fill="#000"/><rect x="237" y="294.3" width="1.5" height="5" fill="#000"/><rect x="244.5" y="294.8" width="0.9" height="4" fill="#000"/><text x="241.5" y="306.0" text-anchor="end" font-family="Liberation Mono" font-size="7" font-weight="bold" fill="#000">PAX3</text><line x1="243" y1="303.7" x2="244" y2="303.7" stroke="#000" stroke-width="0.9"/><rect x="243" y="301.2" width="1.2" height="5" fill="#000"/><text x="241.5" y="312.9" text-anchor="end" font-family="Liberation Mono" font-size="7" font-weight="bold" fill="#000">PAX3</text><line x1="243" y1="310.6" x2="244" y2="310.6" stroke="#000" stroke-width="0.9"/><rect x="243" y="308.1" width="1.2" height="5" fill="#000"/><text x="243" y="319.7" text-anchor="end" font-family="Liberation Mono" font-size="7" font-weight="bold" fill="#35358a">CCDC140</text><line x1="244" y1="317.4" x2="245" y2="317.4" stroke="#35358a" stroke-width="0.9"/><rect x="244.2" y="314.9" width="1" height="5" fill="#35358a"/><text x="246" y="326.6" text-anchor="end" font-family="Liberation Mono" font-size="7" fill="#5a5aa0">RP11-384O8.1</text><rect x="248" y="322.5" width="0.9" height="3.6" fill="#5a5aa0"/><text x="255" y="333.5" text-anchor="end" font-family="Liberation Mono" font-size="7" fill="#5a5aa0">Y_RNA</text><rect x="257" y="329.4" width="0.9" height="3.6" fill="#5a5aa0"/><text x="257" y="340.4" text-anchor="end" font-family="Liberation Mono" font-size="7" font-weight="bold" fill="#35358a">SGPP2</text><line x1="258.5" y1="338.1" x2="271" y2="338.1" stroke="#35358a" stroke-width="0.9"/><rect x="258.5" y="335.6" width="1" height="5" fill="#35358a"/><rect x="262.5" y="335.6" width="1" height="5" fill="#35358a"/><rect x="266.5" y="335.6" width="1" height="5" fill="#35358a"/><rect x="270.5" y="335.6" width="1" height="5" fill="#35358a"/><text x="261" y="347.3" text-anchor="end" font-family="Liberation Mono" font-size="7" fill="#5a5aa0">RNU6-619P</text><rect x="263" y="343.2" width="0.9" height="3.6" fill="#5a5aa0"/><text x="265" y="354.1" text-anchor="end" font-family="Liberation Mono" font-size="7" fill="#5a5aa0">RP11-16F6.1</text><rect x="267" y="350.0" width="0.9" height="3.6" fill="#5a5aa0"/><text x="270" y="361.0" text-anchor="end" font-family="Liberation Mono" font-size="7" font-weight="bold" fill="#000">FARSB</text><line x1="271" y1="358.7" x2="280" y2="358.7" stroke="#000" stroke-width="0.9"/><rect x="271" y="356.2" width="1" height="5" fill="#000"/><rect x="275" y="356.2" width="5" height="5" fill="#000"/><text x="277" y="264.7" text-anchor="end" font-family="Liberation Mono" font-size="7" font-weight="bold" fill="#35358a">MOGAT1</text><line x1="280" y1="262.4" x2="285" y2="262.4" stroke="#35358a" stroke-width="0.9"/><rect x="280.5" y="259.9" width="1" height="5" fill="#35358a"/><rect x="283.5" y="259.9" width="1.5" height="5" fill="#35358a"/><text x="319" y="264.7" text-anchor="end" font-family="Liberation Mono" font-size="7" font-weight="bold" fill="#35358a">KCNE4</text><rect x="321" y="260.6" width="0.9" height="3.6" fill="#35358a"/><text x="296.5" y="271.6" text-anchor="end" font-family="Liberation Mono" font-size="7" font-weight="bold" fill="#35358a">ACSL3</text><line x1="298" y1="269.3" x2="306" y2="269.3" stroke="#35358a" stroke-width="0.9"/><rect x="298" y="267.3" width="1" height="4" fill="#35358a"/><rect x="302.5" y="266.8" width="3.5" height="5" fill="#35358a"/><text x="296.5" y="278.5" text-anchor="end" font-family="Liberation Mono" font-size="7" font-weight="bold" fill="#35358a">ACSL3</text><line x1="298" y1="276.2" x2="306" y2="276.2" stroke="#35358a" stroke-width="0.9"/><rect x="298" y="274.2" width="1" height="4" fill="#35358a"/><rect x="302.5" y="273.7" width="3.5" height="5" fill="#35358a"/><text x="361" y="271.6" text-anchor="end" font-family="Liberation Mono" font-size="7" fill="#5a5aa0">AC013448.1</text><rect x="363" y="267.5" width="0.9" height="3.6" fill="#5a5aa0"/><text x="361" y="278.5" text-anchor="end" font-family="Liberation Mono" font-size="7" fill="#5a5aa0">AC013448.2</text><rect x="363" y="274.4" width="0.9" height="3.6" fill="#5a5aa0"/><text x="306" y="285.3" text-anchor="end" font-family="Liberation Mono" font-size="7" fill="#5a5aa0">AC097461.4</text><rect x="308" y="281.2" width="0.9" height="3.6" fill="#5a5aa0"/><text x="357" y="285.3" text-anchor="end" font-family="Liberation Mono" font-size="7" fill="#5a5aa0">AC013448.3</text><rect x="359" y="281.2" width="0.9" height="3.6" fill="#5a5aa0"/><text x="306" y="292.2" text-anchor="end" font-family="Liberation Mono" font-size="7" fill="#5a5aa0">AC013476.1</text><rect x="308" y="288.1" width="0.9" height="3.6" fill="#5a5aa0"/><text x="336" y="299.1" text-anchor="end" font-family="Liberation Mono" font-size="7" fill="#5a5aa0">RN7SL807P</text><rect x="338" y="295.0" width="0.9" height="3.6" fill="#5a5aa0"/><text x="369" y="264.7" text-anchor="end" font-family="Liberation Mono" font-size="7" font-weight="bold" fill="#35358a">SCG2</text><rect x="370.5" y="260.6" width="0.9" height="3.6" fill="#000"/><text x="404" y="264.7" text-anchor="end" font-family="Liberation Mono" font-size="7" font-weight="bold" fill="#000">MRPL44</text><line x1="405.5" y1="262.4" x2="407" y2="262.4" stroke="#000" stroke-width="0.9"/><rect x="405.5" y="259.9" width="1.2" height="5" fill="#000"/><text x="393" y="271.6" text-anchor="end" font-family="Liberation Mono" font-size="7" font-weight="bold" fill="#35358a">WDFY1</text><line x1="396" y1="269.3" x2="401" y2="269.3" stroke="#35358a" stroke-width="0.9"/><rect x="396" y="266.8" width="5" height="5" fill="#35358a"/><text x="404" y="278.5" text-anchor="end" font-family="Liberation Mono" font-size="7" font-weight="bold" fill="#000">SERPINE2</text><line x1="405.5" y1="276.2" x2="414" y2="276.2" stroke="#000" stroke-width="0.9"/><rect x="405.5" y="273.7" width="3" height="5" fill="#000"/><rect x="413" y="274.2" width="1" height="4" fill="#000"/><text x="385" y="285.3" text-anchor="end" font-family="Liberation Mono" font-size="7" font-weight="bold" fill="#000">AP1S3</text><line x1="387" y1="283.0" x2="394" y2="283.0" stroke="#000" stroke-width="0.9"/><rect x="387" y="280.5" width="2.5" height="5" fill="#000"/><rect x="393" y="281.0" width="1" height="4" fill="#000"/><text x="385" y="292.2" text-anchor="end" font-family="Liberation Mono" font-size="7" font-weight="bold" fill="#000">AP1S3</text><line x1="387" y1="289.9" x2="394" y2="289.9" stroke="#000" stroke-width="0.9"/><rect x="387" y="287.4" width="2.5" height="5" fill="#000"/><rect x="393" y="287.9" width="1" height="4" fill="#000"/><text x="385" y="299.1" text-anchor="end" font-family="Liberation Mono" font-size="7" font-weight="bold" fill="#4a4a98">AP1S3</text><line x1="387" y1="296.8" x2="394" y2="296.8" stroke="#4a4a98" stroke-width="0.9"/><rect x="387" y="294.3" width="2.5" height="5" fill="#4a4a98"/><rect x="393" y="294.8" width="1" height="4" fill="#4a4a98"/><text x="385" y="306.0" text-anchor="end" font-family="Liberation Mono" font-size="7" font-weight="bold" fill="#4a4a98">AP1S3</text><line x1="387" y1="303.7" x2="394" y2="303.7" stroke="#4a4a98" stroke-width="0.9"/><rect x="387" y="301.2" width="2.5" height="5" fill="#4a4a98"/><rect x="393" y="301.7" width="1" height="4" fill="#4a4a98"/><text x="385" y="312.9" text-anchor="end" font-family="Liberation Mono" font-size="7" font-weight="bold" fill="#4a4a98">AP1S3</text><line x1="387" y1="310.6" x2="394" y2="310.6" stroke="#4a4a98" stroke-width="0.9"/><rect x="387" y="308.1" width="2.5" height="5" fill="#4a4a98"/><rect x="393" y="308.6" width="1" height="4" fill="#4a4a98"/><text x="393" y="319.7" text-anchor="end" font-family="Liberation Mono" font-size="7" fill="#5a5aa0">Metazoa_SRP</text><rect x="395.5" y="315.6" width="0.9" height="3.6" fill="#5a5aa0"/><text x="403" y="326.6" text-anchor="end" font-family="Liberation Mono" font-size="7" fill="#5a5aa0">AC073641.2</text><rect x="405.5" y="322.5" width="0.9" height="3.6" fill="#5a5aa0"/><text x="404" y="333.5" text-anchor="end" font-family="Liberation Mono" font-size="7" font-weight="bold" fill="#000">SERPINE2</text><line x1="405.5" y1="331.2" x2="414" y2="331.2" stroke="#000" stroke-width="0.9"/><rect x="405.5" y="328.7" width="3" height="5" fill="#000"/><rect x="413" y="329.2" width="1" height="4" fill="#000"/><text x="404" y="340.4" text-anchor="end" font-family="Liberation Mono" font-size="7" font-weight="bold" fill="#000">SERPINE2</text><line x1="405.5" y1="338.1" x2="414" y2="338.1" stroke="#000" stroke-width="0.9"/><rect x="405.5" y="335.6" width="3" height="5" fill="#000"/><rect x="413" y="336.1" width="1" height="4" fill="#000"/><text x="404" y="347.3" text-anchor="end" font-family="Liberation Mono" font-size="7" font-weight="bold" fill="#000">SERPINE2</text><line x1="405.5" y1="345.0" x2="414" y2="345.0" stroke="#000" stroke-width="0.9"/><rect x="405.5" y="342.5" width="3" height="5" fill="#000"/><rect x="413" y="343.0" width="1" height="4" fill="#000"/><text x="431.5" y="354.1" text-anchor="end" font-family="Liberation Mono" font-size="7" fill="#5a5aa0">AC104602.1</text><rect x="433.5" y="350.0" width="0.9" height="3.6" fill="#5a5aa0"/><text x="446" y="264.7" text-anchor="end" font-family="Liberation Mono" font-size="7" font-weight="bold" fill="#35358a">FAM124B</text><rect x="447.5" y="260.6" width="0.9" height="3.6" fill="#35358a"/><text x="446" y="271.6" text-anchor="end" font-family="Liberation Mono" font-size="7" font-weight="bold" fill="#35358a">FAM124B</text><rect x="447.5" y="267.5" width="0.9" height="3.6" fill="#35358a"/><text x="452" y="285.3" text-anchor="end" font-family="Liberation Mono" font-size="7" fill="#5a5aa0">FAM124B</text><rect x="453.5" y="281.2" width="0.9" height="3.6" fill="#35358a"/><text x="454" y="292.2" text-anchor="end" font-family="Liberation Mono" font-size="7" fill="#5a5aa0">RP11-92F20.1</text><rect x="456" y="288.1" width="0.9" height="3.6" fill="#5a5aa0"/><text x="453" y="278.5" text-anchor="end" font-family="Liberation Mono" font-size="7" font-weight="bold" fill="#000">CUL3</text><line x1="455" y1="276.2" x2="466" y2="276.2" stroke="#000" stroke-width="0.9"/><rect x="455" y="273.7" width="2" height="5" fill="#000"/><rect x="458" y="273.7" width="2" height="5" fill="#000"/><rect x="461" y="273.7" width="2" height="5" fill="#000"/><rect x="464.5" y="273.7" width="1.2" height="5" fill="#000"/><text x="453" y="299.1" text-anchor="end" font-family="Liberation Mono" font-size="7" font-weight="bold" fill="#1e1e50">CUL3</text><line x1="455" y1="296.8" x2="467" y2="296.8" stroke="#000" stroke-width="0.9"/><rect x="455" y="294.3" width="2" height="5" fill="#000"/><rect x="458" y="294.3" width="2" height="5" fill="#000"/><rect x="466" y="294.3" width="1" height="5" fill="#000"/><text x="453" y="306.0" text-anchor="end" font-family="Liberation Mono" font-size="7" font-weight="bold" fill="#1e1e50">CUL3</text><line x1="455" y1="303.7" x2="465" y2="303.7" stroke="#000" stroke-width="0.9"/><rect x="455" y="301.2" width="2" height="5" fill="#000"/><rect x="458" y="301.2" width="2" height="5" fill="#000"/><rect x="464" y="301.2" width="1" height="5" fill="#000"/><text x="453" y="312.9" text-anchor="end" font-family="Liberation Mono" font-size="7" font-weight="bold" fill="#1e1e50">CUL3</text><line x1="455" y1="310.6" x2="459" y2="310.6" stroke="#000" stroke-width="0.9"/><rect x="455" y="308.1" width="2" height="5" fill="#000"/><rect x="458" y="308.1" width="2" height="5" fill="#000"/><rect x="458" y="308.1" width="1" height="5" fill="#000"/><text x="453" y="319.7" text-anchor="end" font-family="Liberation Mono" font-size="7" font-weight="bold" fill="#1e1e50">CUL3</text><line x1="455" y1="317.4" x2="465" y2="317.4" stroke="#000" stroke-width="0.9"/><rect x="455" y="314.9" width="2" height="5" fill="#000"/><rect x="458" y="314.9" width="2" height="5" fill="#000"/><rect x="464" y="314.9" width="1" height="5" fill="#000"/><text x="480.5" y="264.7" text-anchor="end" font-family="Liberation Mono" font-size="7" font-weight="bold" fill="#000">DOCK10</text><line x1="482.7" y1="262.4" x2="503" y2="262.4" stroke="#23236e" stroke-width="0.9"/><rect x="482.7" y="259.4" width="13.7" height="6" fill="#23236e"/><rect x="497.5" y="259.9" width="1" height="5" fill="#23236e"/><rect x="500" y="259.9" width="1" height="5" fill="#23236e"/><rect x="502.5" y="259.9" width="1" height="5" fill="#23236e"/><text x="480.5" y="271.6" text-anchor="end" font-family="Liberation Mono" font-size="7" font-weight="bold" fill="#000">DOCK10</text><line x1="482.7" y1="269.3" x2="510" y2="269.3" stroke="#23236e" stroke-width="0.9"/><rect x="482.7" y="266.3" width="13.7" height="6" fill="#23236e"/><rect x="498" y="266.8" width="1" height="5" fill="#23236e"/><rect x="509.5" y="266.8" width="1" height="5" fill="#23236e"/><text x="508" y="278.5" text-anchor="end" font-family="Liberation Mono" font-size="7" fill="#5a5aa0">MIR4439</text><rect x="510" y="274.4" width="0.9" height="3.6" fill="#5a5aa0"/><text x="541.5" y="285.3" text-anchor="end" font-family="Liberation Mono" font-size="7" fill="#5a5aa0">AC067961.1</text><rect x="543.5" y="281.2" width="0.9" height="3.6" fill="#5a5aa0"/><text x="542" y="264.7" text-anchor="end" font-family="Liberation Mono" font-size="7" font-weight="bold" fill="#35358a">NYAP2</text><line x1="545" y1="262.4" x2="570" y2="262.4" stroke="#35358a" stroke-width="0.9"/><rect x="545" y="259.9" width="1" height="5" fill="#35358a"/><rect x="551" y="259.9" width="1" height="5" fill="#35358a"/><rect x="557" y="259.9" width="1" height="5" fill="#35358a"/><rect x="563" y="259.9" width="1" height="5" fill="#35358a"/><rect x="569.5" y="259.9" width="1" height="5" fill="#35358a"/><text x="574" y="271.6" text-anchor="end" font-family="Liberation Mono" font-size="7" fill="#5a5aa0">RP11-314B1.2</text><rect x="576" y="267.5" width="0.9" height="3.6" fill="#5a5aa0"/><text x="580" y="278.5" text-anchor="end" font-family="Liberation Mono" font-size="7" fill="#5a5aa0">RP11-314B1.1</text><rect x="582" y="274.4" width="0.9" height="3.6" fill="#5a5aa0"/><text x="619" y="285.3" text-anchor="end" font-family="Liberation Mono" font-size="7" fill="#5a5aa0">AC068138.1</text><rect x="621" y="281.2" width="0.9" height="3.6" fill="#5a5aa0"/></g>
</svg>
<div style="position:absolute;left:182.5px;top:379.5px;font:bold 18px 'Liberation Sans',sans-serif;color:#000">c</div><svg style="position:absolute;left:218.3px;top:386.3px;overflow:hidden" width="101.8" height="133.7" viewBox="0 0 101.8 133.7"><defs><filter id="f218" x="-10%" y="-10%" width="120%" height="120%"><feGaussianBlur stdDeviation="1.2"/></filter></defs><g filter="url(#f218)">
<defs>
<linearGradient id="h1" x1="0" y1="0" x2="0.3" y2="1"><stop offset="0" stop-color="#aa4458"/><stop offset="0.25" stop-color="#9b3344"/><stop offset="0.42" stop-color="#882535"/><stop offset="0.7" stop-color="#b43344"/><stop offset="1" stop-color="#a52e3e"/></linearGradient>
</defs>
<rect x="-5" y="-5" width="112" height="145" fill="#1c1c20"/>
<rect x="-5" y="-5" width="6" height="92" fill="#3a3a3a"/>
<path d="M55,3.6 C66,3.6 76,8 80,15 C85,22 88,32 89.5,40 C91,48 92,54 93,60 L94.6,66 C93,72 90,76 88,80 C87,86 86,92 84,97 C80,100 76,100 74,101 C76,106 80,108 84,113 C88,119 90,126 90,140 L12,140 C13,126 18,118 23,110 C22,104 21,100 20,95.5 C15,90 12,85 11.6,81 C8,76 5,72 4,66 C2,60 1.5,55 2,48 C2.5,40 4,32 8,25 C11,20 13,18 17,15 C21,12 26,9 32,7 C39,4.8 47,3.8 55,3.6 Z" fill="url(#h1)"/>
<ellipse cx="52" cy="14" rx="26" ry="9" fill="#b95167" opacity="0.5"/>
<ellipse cx="40" cy="40" rx="32" ry="7" fill="#851d2d" opacity="0.45"/>
<ellipse cx="74" cy="64" rx="18" ry="24" fill="#bb3344" opacity="0.6"/>
<ellipse cx="31" cy="68" rx="9" ry="12.5" fill="#ce5063" opacity="0.8"/>
<ellipse cx="34" cy="68" rx="3" ry="5" fill="#851d2d" opacity="0.7"/>
<ellipse cx="40" cy="90" rx="12" ry="8" fill="#e37488" opacity="0.5"/>
<ellipse cx="62" cy="84" rx="5" ry="4" fill="#f792a8" opacity="0.5"/>
<path d="M60,96 L76,100 L82,112 L70,118 L62,108 Z" fill="#50111d" opacity="0.75"/>
<ellipse cx="36" cy="108" rx="6" ry="5" fill="#621724" opacity="0.8"/>
<ellipse cx="52" cy="128" rx="36" ry="13" fill="#8a2131" opacity="0.75"/>
<ellipse cx="40" cy="124" rx="8" ry="4" fill="#d96579" opacity="0.5"/>
<path d="M-5,87.5 L14.5,87.5 L14.5,140 L-5,140 Z" fill="#080808"/>
<path d="M-5,87.5 L14.5,87.5 L14.5,88.8 L1.5,88.8 L1.5,101 L-5,101 Z" fill="#a8a060"/>
</g></svg><svg style="position:absolute;left:326.2px;top:386.3px;overflow:hidden" width="109.2" height="133.7" viewBox="0 0 109.2 133.7"><defs><filter id="f326" x="-10%" y="-10%" width="120%" height="120%"><feGaussianBlur stdDeviation="1.2"/></filter></defs><g filter="url(#f326)">
<defs>
<radialGradient id="h2" cx="0.6" cy="0.65" r="0.62"><stop offset="0" stop-color="#c05467"/><stop offset="0.5" stop-color="#a0394a"/><stop offset="1" stop-color="#7c2534"/></radialGradient>
<radialGradient id="b2" cx="0.5" cy="0.2" r="0.8"><stop offset="0" stop-color="#c54d5d"/><stop offset="1" stop-color="#902533"/></radialGradient>
</defs>
<rect x="-5" y="-5" width="120" height="145" fill="#18181c"/>
<rect x="-5" y="34" width="30" height="22" fill="#2c2c2e"/>
<rect x="-5" y="55.8" width="27" height="48.2" fill="#050505"/>
<rect x="-5" y="103" width="18.3" height="35" fill="#8c9092"/>
<path d="M1,-5 L31,-5 L34,8 L36.5,15.7 L32,31.4 L29,43 L25,47 L18.8,31.4 L11,15.7 L4,4 Z" fill="#7682c6"/>
<path d="M74,-5 L94,-5 L96,15 L99.5,31 L99.7,46 L96,47 L88,31 L80,15.7 Z" fill="#7480c6"/>
<path d="M-2,140 L4,120 C8,113 14,110 24,108 C32,106 36,104 40,104 L78,103 C88,104 96,106 99,112 C102,118 103,126 104,140 Z" fill="url(#b2)"/>
<path d="M64,11 C74,11 81,16 86,24 C92,33 97,42 98.5,52 C99.5,60 99.5,70 99,78 C98,85 96,90 92,95 C87,100 80,104 72,106 C62,108 50,106 42,100 C36,95 31,88 28.5,80 C26,72 25.5,62 27,52 C29,40 34,30 40,22 C46,15 55,11 64,11 Z" fill="url(#h2)"/>
<ellipse cx="64" cy="26" rx="22" ry="12" fill="#862533" opacity="0.5"/>
<ellipse cx="67" cy="27" rx="6" ry="5" fill="#b65e72" opacity="0.4"/>
<ellipse cx="54" cy="62" rx="10" ry="3.5" fill="#791f2e" opacity="0.45"/>
<ellipse cx="85" cy="62" rx="7" ry="3.5" fill="#791f2e" opacity="0.45"/>
<ellipse cx="75" cy="79" rx="7" ry="7" fill="#cb586b" opacity="0.5"/>
<circle cx="73.4" cy="83.5" r="1.3" fill="#3e0812"/>
<ellipse cx="72" cy="93.5" rx="13" ry="3" fill="#d96579" opacity="0.85"/>
<ellipse cx="72" cy="94.6" rx="12" ry="0.8" fill="#600e1c" opacity="0.8"/>
<ellipse cx="76" cy="101" rx="10" ry="4.5" fill="#db7c91" opacity="0.5"/>
<ellipse cx="79" cy="105" rx="5" ry="5" fill="#3f0c16" opacity="0.55"/>
<ellipse cx="60" cy="114" rx="12" ry="7" fill="#e3788c" opacity="0.6"/>
<ellipse cx="20" cy="124" rx="8" ry="5" fill="#e37084" opacity="0.5"/>
</g></svg><svg style="position:absolute;left:441.2px;top:386.3px;overflow:hidden" width="93.3" height="133.7" viewBox="0 0 93.3 133.7"><defs><filter id="f441" x="-10%" y="-10%" width="120%" height="120%"><feGaussianBlur stdDeviation="1.2"/></filter></defs><g filter="url(#f441)">
<defs>
<radialGradient id="t3" cx="0.35" cy="0.12" r="0.9"><stop offset="0" stop-color="#de8397"/><stop offset="0.3" stop-color="#d45063"/><stop offset="1" stop-color="#c93345"/></radialGradient>
<radialGradient id="l3" cx="0.7" cy="0.6" r="0.6"><stop offset="0" stop-color="#6a0715"/><stop offset="0.5" stop-color="#870f1e"/><stop offset="1" stop-color="#aa1627"/></radialGradient>
</defs>
<rect x="-5" y="-5" width="105" height="145" fill="#101010"/>
<rect x="-5" y="10.7" width="10.4" height="45.6" fill="#ccd49c"/>
<path d="M4.5,-5 L93,-5 L93,100 L88,112 L83,140 L53,140 L55,108 L30,110 L-5,117 L-5,84 L26.8,78.5 L24,70 L20,58 L15,42 L12,27 L9.4,13.4 Z" fill="url(#t3)"/>
<path d="M-5,84 L26.8,78.5 L40,82 L56,92 L60,106 L30,110 L-5,117 Z" fill="#e95d70"/>
<path d="M-5,86 L26,80 L40,84 L34,88 L-5,92 Z" fill="#fe8092" opacity="0.6"/>
<path d="M55,104 L76,96 L92.5,100 L88,112 L83,140 L53,140 Z" fill="#eb5f70"/>
<ellipse cx="44" cy="80" rx="14" ry="18" fill="#fc95aa" opacity="0.55"/>
<path d="M52,52 C54,44 62,40 72,40 C84,40 92,44 94,50 L94,80 C88,82 78,80 70,76 C60,72 52,64 52,52 Z" fill="url(#l3)"/>
<ellipse cx="70" cy="42" rx="10" ry="2" fill="#ffb0c0" opacity="0.8"/>
<ellipse cx="64" cy="98" rx="4" ry="1.6" fill="#ffbfd0"/>
<ellipse cx="79" cy="95" rx="4" ry="2" fill="#ffbfd0"/>
<rect x="92.5" y="-5" width="8" height="145" fill="#202020"/>
</g></svg>
</body></html>
